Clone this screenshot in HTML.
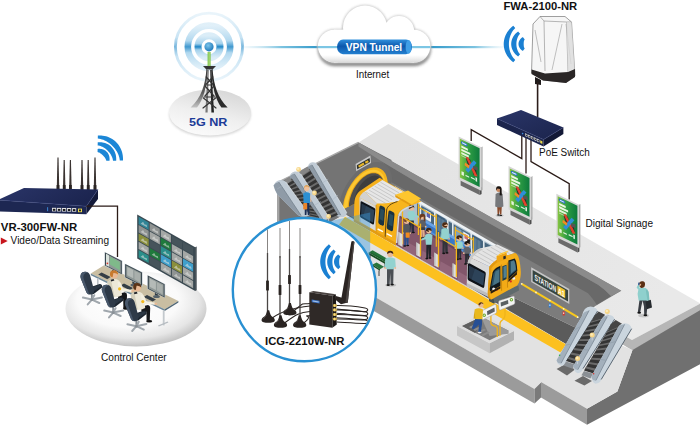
<!DOCTYPE html>
<html><head><meta charset="utf-8"><title>5G NR Subway Application</title>
<style>
html,body{margin:0;padding:0;background:#fff;}
body{width:700px;height:426px;overflow:hidden;}
svg{display:block;}
text{font-family:"Liberation Sans",sans-serif;}
.b{font-weight:bold;}
</style></head><body>
<svg width="700" height="426" viewBox="0 0 700 426">
<defs>
<linearGradient id="gBase" x1="0.75" y1="0" x2="0.3" y2="1"><stop offset="0" stop-color="#d6d6d6"/><stop offset="0.55" stop-color="#efefef"/><stop offset="1" stop-color="#fbfbfb"/></linearGradient>
<linearGradient id="gRing" x1="0" y1="0" x2="0" y2="1"><stop offset="0" stop-color="#cfe7f5" stop-opacity="0.75"/><stop offset="0.36" stop-color="#a3d1ec"/><stop offset="0.5" stop-color="#1e86c6"/><stop offset="0.64" stop-color="#a3d1ec"/><stop offset="1" stop-color="#cfe7f5" stop-opacity="0.75"/></linearGradient>
<linearGradient id="gLineL" x1="0" y1="0" x2="1" y2="0"><stop offset="0" stop-color="#cfe8f3" stop-opacity="0.2"/><stop offset="0.5" stop-color="#7cc3e0"/><stop offset="1" stop-color="#2f97c8"/></linearGradient>
<linearGradient id="gLineR" x1="0" y1="0" x2="1" y2="0"><stop offset="0" stop-color="#2f97c8"/><stop offset="0.6" stop-color="#7cc3e0"/><stop offset="1" stop-color="#cfe8f3" stop-opacity="0.1"/></linearGradient>
<linearGradient id="gPill" x1="0" y1="0" x2="0" y2="1"><stop offset="0" stop-color="#2f8fdc"/><stop offset="0.45" stop-color="#0d58ac"/><stop offset="1" stop-color="#2380d0"/></linearGradient>
<linearGradient id="gCloud" x1="0" y1="0" x2="0" y2="1"><stop offset="0" stop-color="#ffffff"/><stop offset="0.8" stop-color="#ffffff"/><stop offset="1" stop-color="#ececec"/></linearGradient>
<radialGradient id="gBall" cx="0.4" cy="0.35" r="0.7"><stop offset="0" stop-color="#7cc4ea"/><stop offset="1" stop-color="#1a76b8"/></radialGradient>
<filter id="fCloud" x="-10%" y="-10%" width="120%" height="140%"><feGaussianBlur stdDeviation="1.6"/></filter>
<filter id="fSoft" x="-10%" y="-10%" width="120%" height="120%"><feGaussianBlur stdDeviation="1.2"/></filter>
<linearGradient id="gCC" x1="0" y1="0" x2="0" y2="1"><stop offset="0" stop-color="#ffffff"/><stop offset="0.6" stop-color="#f7f7f7"/><stop offset="1" stop-color="#d2d2d2"/></linearGradient>
<linearGradient id="gCloudB" x1="0" y1="0" x2="0" y2="1"><stop offset="0" stop-color="#e0e0e0" stop-opacity="0"/><stop offset="1" stop-color="#d5d5d5"/></linearGradient><clipPath id="cCloud"><rect x="334" y="29.7" width="80" height="32.8"/><circle cx="334.3" cy="46.1" r="16.4"/><circle cx="414" cy="46.1" r="16.4"/></clipPath>
<clipPath id="cCircle"><circle cx="304.4" cy="289.6" r="70.6"/></clipPath>
</defs>
<rect width="700" height="426" fill="#fff"/>
<ellipse cx="210" cy="114.4" rx="41" ry="22.6" fill="#c9c9c9" filter="url(#fSoft)" opacity="0.75"/>
<ellipse cx="210" cy="112.6" rx="41" ry="23" fill="url(#gBase)"/>
<circle cx="209" cy="46.8" r="33.6" fill="none" stroke="url(#gRing)" stroke-width="2.8" opacity="0.6"/>
<circle cx="209" cy="46.8" r="21.2" fill="none" stroke="url(#gRing)" stroke-width="6.6" opacity="0.85"/>
<circle cx="209" cy="46.8" r="11" fill="none" stroke="url(#gRing)" stroke-width="7" opacity="1"/>
<circle cx="209" cy="46.8" r="4.6" fill="url(#gBall)"/>
<rect x="207.6" y="52" width="3" height="15" fill="#79c143"/>
<rect x="208.6" y="52" width="1" height="15" fill="#b5e08a"/>
<defs><linearGradient id="gLegL" x1="0" y1="0" x2="0" y2="1"><stop offset="0" stop-color="#3a3a3a"/><stop offset="0.6" stop-color="#5a5a5a"/><stop offset="1" stop-color="#c4c4c4"/></linearGradient></defs>
<g fill="none" stroke="#333" stroke-linecap="round" stroke-linejoin="round"><path d="M203,66 h13 l-3.4,3.4 h-6.2z" fill="#333" stroke="none"/><path d="M206.4,69 C205.4,85 201,98 190.6,107.6 L197,107.6 C203.6,99 206.8,87 207.8,70" fill="url(#gLegL)" stroke="none"/><path d="M212.6,69 C213.6,85 218,98 227.6,107.6 L221.4,107.6 C215.4,99 212.2,87 211.2,70" fill="#2b2b2b" stroke="none"/><path d="M207.6,70 L205.4,112.4 L207.6,112.4 L208.8,70 Z" fill="#777" stroke="none"/><path d="M210.2,70 L211.4,112.4 L214,112.4 L211.4,70 Z" fill="#222" stroke="none"/><path d="M206.2,77 L212.6,84 M212.8,77 L206.4,84 M205,86 L214,96 M214,86 L205,96 M203.4,98 L216,108 M215.6,98 L203,108" stroke-width="1.2"/><path d="M205.6,85 H213.4 M204,97 H215" stroke-width="1.1"/></g>
<text x="189" y="126.3" class="b" font-size="11.3" fill="#1c3b98" textLength="38.4" lengthAdjust="spacingAndGlyphs">5G NR</text>
<rect x="243" y="46" width="77" height="2.2" fill="url(#gLineL)"/>
<rect x="428" y="46" width="78" height="2.2" fill="url(#gLineR)"/>
<g fill="#6a6a6a" opacity="0.85" transform="translate(0.3,3.6)" filter="url(#fCloud)"><rect x="334" y="29.7" width="80" height="32.8"/><circle cx="334.3" cy="46.1" r="16.4"/><circle cx="414" cy="46.1" r="16.4"/><circle cx="365" cy="27.5" r="22"/><circle cx="399" cy="31.2" r="15.2"/></g>
<g fill="#c9c9c9" stroke="#c9c9c9" stroke-width="1.6" filter="url(#fSoft)" opacity="0.9"><rect x="334" y="29.7" width="80" height="32.8"/><circle cx="334.3" cy="46.1" r="16.4"/><circle cx="414" cy="46.1" r="16.4"/><circle cx="365" cy="27.5" r="22"/><circle cx="399" cy="31.2" r="15.2"/></g>
<g fill="#fff"><rect x="334" y="29.7" width="80" height="32.8"/><circle cx="334.3" cy="46.1" r="16.4"/><circle cx="414" cy="46.1" r="16.4"/><circle cx="365" cy="27.5" r="22"/><circle cx="399" cy="31.2" r="15.2"/></g>
<rect x="318" y="55" width="112" height="8" fill="url(#gCloudB)" clip-path="url(#cCloud)"/>
<rect x="318" y="46" width="112" height="2.2" fill="#7cc6e4"/>
<rect x="337" y="39.6" width="75" height="14.6" rx="6" ry="7.3" fill="url(#gPill)"/>
<ellipse cx="408.6" cy="46.9" rx="3" ry="6.8" fill="#3f9ee6"/>
<text x="374" y="50.6" class="b" font-size="10.2" fill="#fff" text-anchor="middle" textLength="56.4" lengthAdjust="spacingAndGlyphs">VPN Tunnel</text>
<text x="356" y="77.7" font-size="10" fill="#111" textLength="33.2" lengthAdjust="spacingAndGlyphs">Internet</text>
<text x="503.4" y="9.8" class="b" font-size="11.6" fill="#111" textLength="73.8" lengthAdjust="spacingAndGlyphs">FWA-2100-NR</text>
<polygon points="522.81,50.89 522.26,50.52 521.71,50.13 521.18,49.69 520.68,49.21 520.21,48.68 519.79,48.11 519.41,47.50 519.09,46.85 518.84,46.16 518.65,45.46 518.54,44.73 518.50,44.00 518.54,43.27 518.65,42.54 518.84,41.84 519.09,41.15 519.41,40.50 519.79,39.89 520.21,39.32 520.68,38.79 521.18,38.31 521.71,37.87 522.26,37.48 522.81,37.11 524.74,39.40 524.49,39.76 524.28,40.16 524.12,40.56 523.99,40.97 523.89,41.37 523.82,41.77 523.77,42.16 523.74,42.54 523.72,42.92 523.71,43.28 523.70,43.64 523.70,44.00 523.70,44.36 523.71,44.72 523.72,45.08 523.74,45.46 523.77,45.84 523.82,46.23 523.89,46.63 523.99,47.03 524.12,47.44 524.28,47.84 524.49,48.24 524.74,48.60" fill="#1b80d2"/><polygon points="518.12,56.49 517.18,55.76 516.26,54.98 515.39,54.13 514.58,53.22 513.84,52.24 513.17,51.20 512.59,50.09 512.10,48.94 511.71,47.74 511.43,46.52 511.26,45.26 511.20,44.00 511.26,42.74 511.43,41.48 511.71,40.26 512.10,39.06 512.59,37.91 513.17,36.80 513.84,35.76 514.58,34.78 515.39,33.87 516.26,33.02 517.18,32.24 518.12,31.51 520.05,33.81 519.40,34.53 518.83,35.30 518.32,36.11 517.89,36.95 517.52,37.81 517.20,38.69 516.95,39.57 516.75,40.45 516.59,41.34 516.48,42.23 516.42,43.11 516.40,44.00 516.42,44.89 516.48,45.77 516.59,46.66 516.75,47.55 516.95,48.43 517.20,49.31 517.52,50.19 517.89,51.05 518.32,51.89 518.83,52.70 519.40,53.47 520.05,54.19" fill="#1b80d2"/><polygon points="513.30,62.23 511.95,61.14 510.66,59.97 509.44,58.70 508.32,57.34 507.29,55.89 506.37,54.37 505.58,52.76 504.91,51.09 504.39,49.37 504.01,47.60 503.78,45.81 503.70,44.00 503.78,42.19 504.01,40.40 504.39,38.63 504.91,36.91 505.58,35.24 506.37,33.63 507.29,32.11 508.32,30.66 509.44,29.30 510.66,28.03 511.95,26.86 513.30,25.77 515.23,28.07 514.17,29.15 513.22,30.32 512.37,31.55 511.62,32.83 510.97,34.16 510.41,35.52 509.94,36.90 509.56,38.30 509.27,39.71 509.06,41.14 508.94,42.57 508.90,44.00 508.94,45.43 509.06,46.86 509.27,48.29 509.56,49.70 509.94,51.10 510.41,52.48 510.97,53.84 511.62,55.17 512.37,56.45 513.22,57.68 514.17,58.85 515.23,59.93" fill="#1b80d2"/>
<path d="M540,16.5 L565,16.5 L571.5,22 L575,76 L566,82.5 L543,80 L531.5,73 L533,24 Z" fill="#f6f6f6" stroke="#777" stroke-width="0.7"/>
<path d="M540,16.5 L544,21 L566.5,22 L571.5,22 M544,21 L545,71 M566.5,22 L568,72" fill="none" stroke="#888" stroke-width="0.6"/>
<path d="M535,30 L541,62 M562,24 L552,70 M566,24 L571,64" fill="none" stroke="#999" stroke-width="0.6"/>
<path d="M566.5,22 L571.5,22 L575,76 L568,72 Z" fill="#dcdcdc" opacity="0.8"/>
<path d="M531.6,69.5 L545,73.5 L568,72 L575,69 L575,77 L566,83 L543,80.5 L531.5,74 Z" fill="#2a2626"/>
<path d="M535,77 L541,80 L541,85 L535,84 Z" fill="#1f1b1b"/>
<path d="M537.6,82 V117" stroke="#2b1d1a" stroke-width="1.6" fill="none"/>
<linearGradient id="gUp" gradientUnits="userSpaceOnUse" x1="400" y1="140" x2="640" y2="330"><stop offset="0" stop-color="#e3e3e3"/><stop offset="1" stop-color="#e9e9e9"/></linearGradient>
<polygon points="388.4,124 700.5,303.5 632,340 622,334.5 600,322 595,306.3 621.3,290.8 358.5,142.4" fill="url(#gUp)" />
<polygon points="632,340 700.5,303.5 700.5,311 632.5,350.4 621,343.5 622,334.5" fill="#b6b6b6" />
<polygon points="632.5,350 700.5,310 700.5,364 587,424.8 587,408.7 617.4,391.5" fill="#707070" />
<polygon points="358.5,142.4 621.3,290.8 595,306.3 584,316 574.6,327.3 515.5,298.4 380,232 358.5,222" fill="#7c7c7c" />
<polygon points="515.5,298.4 574.6,327.3 584,316 590,330 570,346.5 340,213.68 340,190 400,240" fill="#5b5b5b" />
<polygon points="358.5,142.4 277.3,182.6 277.3,256 345,214 391.5,232 391.5,160" fill="#747474" />
<polyline points="358.5,142.4 277.3,182.6" fill="none" stroke="#a9a9a9" stroke-width="1.6" />
<path d="M381,161.01 L420,184.13 L598,284.64 Q606,290.16 611,296 L596.7,304.8 Q594,300 588,293.30 L391.5,182.33 Q389.5,167 381,161.01 Z" fill="#696969"/>
<path d="M358.50,142.40 L621.30,290.80 L611,296 Q606,290.16 598,284.64 L420,184.13 L381,161.01 L358.5,146.60 Z" fill="#8b8b8b"/>
<polygon points="287,246.3 345,214 566,344.08 600,336 632.5,350 617.4,391.5 587,408.7 541,382.06 534.5,388.9" fill="#e2e2e2" />
<polygon points="345,216.76 566.3,344.46 560.5,352.51 339,224.7" fill="#fcc01f" />
<polygon points="287,246.3 534.5,388.9 534.5,403.5 287,261" fill="#9b9b9b" />
<polygon points="534.5,388.9 541,382.6 541,397.5 534.5,403.5" fill="#7a7a7a" />
<polygon points="541,382.06 587,408.7 587,424.8 541,397.5" fill="#9b9b9b" />
<polygon points="338.3,212.02 338.38,209.5 338.63,206.91 339.05,204.25 339.62,201.55 340.36,198.81 341.24,196.07 342.28,193.33 343.46,190.62 344.77,187.94 346.21,185.32 347.76,182.77 349.43,180.3 351.19,177.94 353.04,175.7 354.97,173.58 356.96,171.61 359,169.8 361.08,168.15 363.18,166.68 365.3,165.4 367.42,164.31 369.52,163.42 371.6,162.74 373.64,162.27 375.63,162.01 377.56,161.97 379.41,162.14 381.17,162.53 382.84,163.13 384.39,163.93 385.83,164.95 387.14,166.15 388.32,167.55 389.36,169.13 390.24,170.88 390.98,172.79 391.55,174.84 391.97,177.04 392.22,179.36 392.3,181.78" fill="#6c6c6c" />
<polygon points="342.9,209.44 342.97,207.31 343.18,205.11 343.52,202.86 344,200.58 344.61,198.27 345.34,195.96 346.2,193.64 347.18,191.35 348.27,189.1 349.46,186.89 350.75,184.74 352.13,182.67 353.6,180.69 355.13,178.8 356.73,177.03 358.38,175.38 360.07,173.87 361.8,172.49 363.54,171.27 365.3,170.2 367.06,169.3 368.8,168.57 370.53,168.01 372.22,167.63 373.87,167.43 375.47,167.42 377,167.58 378.47,167.93 379.85,168.45 381.14,169.15 382.33,170.02 383.42,171.06 384.4,172.25 385.26,173.6 385.99,175.09 386.6,176.72 387.08,178.47 387.42,180.33 387.63,182.3 387.7,184.36" fill="#f4b41c" />
<polygon points="343.9,208.95 343.96,206.95 344.16,204.89 344.47,202.79 344.92,200.65 345.48,198.49 346.17,196.33 346.97,194.17 347.87,192.03 348.88,189.92 349.99,187.86 351.19,185.85 352.47,183.92 353.83,182.07 355.26,180.31 356.74,178.66 358.27,177.12 359.84,175.71 361.45,174.43 363.07,173.29 364.7,172.3 366.33,171.46 367.95,170.79 369.56,170.27 371.13,169.92 372.66,169.75 374.14,169.74 375.57,169.9 376.93,170.23 378.21,170.73 379.41,171.39 380.52,172.21 381.53,173.18 382.43,174.31 383.23,175.57 383.92,176.97 384.48,178.5 384.93,180.14 385.24,181.88 385.44,183.73 385.5,185.65" fill="#fdc832" />
<polygon points="347.7,207.4 347.76,205.6 347.93,203.74 348.21,201.84 348.6,199.92 349.1,197.97 349.71,196.02 350.41,194.08 351.21,192.15 352.11,190.26 353.09,188.41 354.15,186.61 355.28,184.87 356.49,183.21 357.75,181.64 359.06,180.16 360.41,178.79 361.8,177.53 363.22,176.39 364.66,175.38 366.1,174.5 367.54,173.76 368.98,173.17 370.4,172.72 371.79,172.42 373.14,172.28 374.45,172.29 375.71,172.45 376.92,172.76 378.05,173.22 379.11,173.83 380.09,174.59 380.99,175.48 381.79,176.51 382.49,177.66 383.1,178.93 383.6,180.32 383.99,181.8 384.27,183.39 384.44,185.05 384.5,186.8" fill="#e9a514" />
<polygon points="348.9,206.76 348.95,205.03 349.12,203.26 349.39,201.44 349.76,199.6 350.24,197.74 350.82,195.88 351.49,194.02 352.26,192.18 353.12,190.37 354.05,188.6 355.07,186.88 356.15,185.22 357.3,183.63 358.51,182.13 359.76,180.72 361.06,179.4 362.39,178.2 363.75,177.11 365.12,176.14 366.5,175.3 367.88,174.59 369.25,174.02 370.61,173.6 371.94,173.31 373.24,173.17 374.49,173.18 375.7,173.33 376.85,173.63 377.93,174.07 378.95,174.66 379.88,175.38 380.74,176.23 381.51,177.21 382.18,178.31 382.76,179.53 383.24,180.85 383.61,182.27 383.88,183.79 384.05,185.38 384.1,187.04" fill="#4d4d4d" />
<polygon points="353.8,204.3 353.85,202.82 353.98,201.3 354.21,199.75 354.53,198.17 354.94,196.58 355.43,194.99 356.01,193.4 356.66,191.82 357.39,190.27 358.19,188.76 359.06,187.29 359.98,185.87 360.96,184.52 361.99,183.23 363.06,182.02 364.16,180.9 365.3,179.87 366.45,178.94 367.62,178.12 368.8,177.4 369.98,176.8 371.15,176.31 372.3,175.95 373.44,175.71 374.54,175.59 375.61,175.6 376.64,175.74 377.62,176 378.54,176.38 379.41,176.88 380.21,177.5 380.94,178.23 381.59,179.07 382.17,180.02 382.66,181.06 383.07,182.19 383.39,183.41 383.62,184.71 383.75,186.07 383.8,187.5" fill="#3e3e3e" />
<polygon points="355.6,163.9 370.4,155.6 371,163 356.2,171.3" fill="#c9c9c9" />
<polygon points="356.8,165.3 369.6,158.1 370,162 357.2,169.2" fill="#2f3330" />
<polyline points="358.6,166.6 364,163.5" fill="none" stroke="#e7b62a" stroke-width="2.2" />
<polyline points="365.3,162.8 368.3,161.1" fill="none" stroke="#e7b62a" stroke-width="2.2" />
<polygon points="395,187.41 498,246.85 498,272.35 395,212.91" fill="#aebfcd" />
<polygon points="395,186.31 498,245.75 498,248.75 395,189.31" fill="#eef2f5" />
<polygon points="417,203.21 498,249.95 498,263.35 417,216.61" fill="#48677f" />
<polygon points="436.5,213.86 445.5,219.05 445.5,243.05 436.5,237.86" fill="#3f5f7c" />
<polygon points="437.5,216.44 440.7,218.28 440.7,232.28 437.5,230.44" fill="#5d7d95" />
<polygon points="441.3,218.63 444.5,220.48 444.5,234.48 441.3,232.63" fill="#5d7d95" />
<polygon points="472.5,234.63 481.5,239.83 481.5,263.83 472.5,258.63" fill="#3f5f7c" />
<polygon points="473.5,237.21 476.7,239.06 476.7,253.06 473.5,251.21" fill="#5d7d95" />
<polygon points="477.3,239.4 480.5,241.25 480.5,255.25 477.3,253.4" fill="#5d7d95" />
<polygon points="423.5,208.36 430.5,212.4 430.5,222.9 423.5,218.86" fill="#7f9fb8" />
<polygon points="454.5,226.25 461.5,230.29 461.5,240.79 454.5,236.75" fill="#7f9fb8" />
<polygon points="462.5,230.86 469.5,234.9 469.5,245.4 462.5,241.36" fill="#7f9fb8" />
<polygon points="425.6,209.97 431,213.09 431,222.09 425.6,218.97" fill="#eef1f4" />
<polygon points="426.6,211.95 430,213.91 430,218.51 426.6,216.55" fill="#5a62ae" />
<polygon points="463.4,231.78 469,235.01 469,244.01 463.4,240.78" fill="#eef1f4" />
<polygon points="464.4,233.76 468,235.84 468,240.44 464.4,238.36" fill="#c26a78" />
<polygon points="419.6,203.11 421.2,204.03 421.2,228.03 419.6,227.11" fill="#e2e9ee" />
<polygon points="434,211.42 435.6,212.34 435.6,236.34 434,235.42" fill="#e2e9ee" />
<polygon points="447,218.92 448.6,219.84 448.6,243.84 447,242.92" fill="#e2e9ee" />
<polygon points="452,221.8 453.6,222.73 453.6,246.73 452,245.8" fill="#e2e9ee" />
<polygon points="470.4,232.42 472,233.34 472,257.34 470.4,256.42" fill="#e2e9ee" />
<polygon points="483,239.69 484.6,240.61 484.6,264.61 483,263.69" fill="#e2e9ee" />
<polygon points="421.5,218.71 436,227.07 436,236.57 421.5,228.21" fill="#3878c8" />
<polygon points="421.5,217.61 436,225.97 436,228.97 421.5,220.61" fill="#6aa4e6" />
<polygon points="421.5,226.21 436,234.57 436,237.97 421.5,229.61" fill="#5590da" />
<polygon points="446.5,233.13 471,247.27 471,256.77 446.5,242.63" fill="#3878c8" />
<polygon points="446.5,232.03 471,246.17 471,249.17 446.5,235.03" fill="#6aa4e6" />
<polygon points="446.5,240.63 471,254.77 471,258.17 446.5,244.03" fill="#5590da" />
<polygon points="482,253.61 498,262.85 498,272.35 482,263.11" fill="#3878c8" />
<polygon points="482,252.51 498,261.75 498,264.75 482,255.51" fill="#6aa4e6" />
<polygon points="482,261.11 498,270.35 498,273.75 482,264.51" fill="#5590da" />
<polygon points="395,212.91 498,272.35 470,288.19 393,243.76" fill="#82566a" />
<polygon points="395,212.91 498,272.35 496,273.59 394.6,215.08" fill="#6a4457" />
<polygon points="404.5,240.4 416.5,247.32 415.5,256.74 403.5,249.82" fill="#93667a" />
<polygon points="422.5,250.78 434.5,257.71 433.5,267.13 421.5,260.21" fill="#93667a" />
<polygon points="440.5,261.17 452.5,268.09 451.5,277.52 439.5,270.59" fill="#93667a" />
<polygon points="458.5,271.55 470.5,278.48 469.5,287.9 457.5,280.98" fill="#93667a" />
<polygon points="393,243.36 470,287.79 470,289.09 393,244.66" fill="#d8d0c4" />
<path d="M353.8,221.6 L354.3,204 C354.6,197 357,193 361,190.3 L379.6,177.8 L421,201.6 L412,205 C404,207 398.5,211 397.6,217 L395.7,245.4 Z" fill="#f5b01b"/>
<path d="M364.6,191.6 L382.4,179.9 L409,195.2 L397.5,201.5 L386,203.5 L377,203.6 Z" fill="#e6e6e6"/>
<path d="M359.6,197.4 C360.6,194.6 362.4,193 364.6,191.6 L377,203.6 L376,206.6 Z" fill="#d2d2d2"/>
<polyline points="366,192 387,204.1" fill="none" stroke="#b4b4b4" stroke-width="0.6" />
<polyline points="368.88,190.04 389.4,201.86" fill="none" stroke="#b4b4b4" stroke-width="0.6" />
<polyline points="371.76,188.08 391.8,199.62" fill="none" stroke="#b4b4b4" stroke-width="0.6" />
<polyline points="374.64,186.12 394.2,197.38" fill="none" stroke="#b4b4b4" stroke-width="0.6" />
<polyline points="377.52,184.16 396.6,195.14" fill="none" stroke="#b4b4b4" stroke-width="0.6" />
<polyline points="380.4,182.2 399,192.9" fill="none" stroke="#b4b4b4" stroke-width="0.6" />
<polygon points="359.6,197.4 376,206.6 376,231.2 359.8,221.8" fill="#d9d9d9" />
<polygon points="359.6,197.4 360.6,198 360.8,222.4 359.8,221.8" fill="#c2c2c2" />
<path d="M360.6,202.2 Q360.6,200.8 362,201.4 L374.4,208 Q375.6,208.8 375.4,210 L374,223.6 Q373.8,225 372.4,224.3 L361,217.8 Q359.8,217 359.9,215.6 Z" fill="#0f141b"/>
<path d="M361.6,203.6 L374.3,210.2 L373,222.6 L361,215.8 Z" fill="#27384a"/>
<path d="M366,206 L374.3,210.2 L373,222.6 L363,217 Z" fill="#314a60" opacity="0.7"/>
<polygon points="376,204.8 397.5,214 395.7,245.4 376,234" fill="#f5b01b" />
<polygon points="376,204.8 386.5,209.3 385,239.2 376,234" fill="#f2ab18" />
<path d="M376,204.8 L386,203.5 L397.5,201.5 L409,195.2 L421,201.6 L412,205 C404,207 398.5,211 397.6,214 Z" fill="#f7b51e"/>
<polygon points="395.3,194.8 408,190.4 421,198.6 411.5,204.4" fill="#fdc62e" />
<polygon points="395.3,194.8 411.5,204.4 411.3,206.3 395.3,197" fill="#e39c12" />
<path d="M379.4,207.2 Q379.6,205 381.5,205.8 L383.6,206.8 Q385.2,207.6 385.1,209.4 L384,224.3 Q383.8,226.3 382,225.5 L379.6,224.3 Q378.2,223.5 378.3,221.8 Z" fill="#1b3240"/>
<path d="M388.4,212.2 Q388.6,210 390.5,210.8 L393,212 Q394.6,212.8 394.5,214.6 L393,229.8 Q392.8,231.8 391,231 L388,229.5 Q386.6,228.7 386.7,227 Z" fill="#1b3240"/>
<path d="M380.5,208.5 L384,210.2 L383.2,221 L379.6,219 Z" fill="#2f5868" opacity="0.7"/>
<path d="M389.5,213.5 L393.3,215.4 L392.4,226.5 L388.5,224.4 Z" fill="#2f5868" opacity="0.7"/>
<path d="M397.5,201.5 C391,203.5 387.3,206 386.6,210 L385,239.2" fill="none" stroke="#3a2a10" stroke-width="0.8"/>
<polyline points="376,204.8 376,234" fill="none" stroke="#c98a10" stroke-width="0.7" />
<polyline points="377.6,229 383,231.6" fill="none" stroke="#fff" stroke-width="1.4" />
<polyline points="386.6,233.6 392,236.4" fill="none" stroke="#fff" stroke-width="1.4" />
<polygon points="353.8,219 395.8,242.8 395.7,245.4 353.8,221.6" fill="#e39c12" />
<polyline points="418.4,203.92 418.4,234.92" fill="none" stroke="#f5b51a" stroke-width="1.2" />
<polyline points="436.3,214.25 436.3,246.75" fill="none" stroke="#f5b51a" stroke-width="1.2" />
<polyline points="418.4,206.92 436.3,217.25" fill="none" stroke="#f5b51a" stroke-width="1.2" />
<polyline points="455.4,226.77 455.4,248.77" fill="none" stroke="#f5b51a" stroke-width="1.2" />
<polyline points="473.3,237.09 473.3,260.59" fill="none" stroke="#f5b51a" stroke-width="1.2" />
<polyline points="455.4,229.77 473.3,240.09" fill="none" stroke="#f5b51a" stroke-width="1.2" />
<path d="M409.00,219.34 L413.80,219.34 L414.20,232.40 L411.70,232.40 L411.40,222.64 L410.90,233.00 L408.84,233.00 Z" fill="#2b3040"/><ellipse cx="410.20" cy="233.00" rx="1.5" ry="0.8" fill="#141414"/><ellipse cx="413.40" cy="232.50" rx="1.5" ry="0.8" fill="#141414"/><path d="M407.72,212.20 Q411.40,209.00 415.08,212.20 L414.28,220.44 L408.52,220.44 Z" fill="#93d2cf"/><path d="M413.00,212.80 L419.00,216.20 L418.60,217.80 L412.20,215.80 Z" fill="#93d2cf"/><circle cx="419.40" cy="217.00" r="0.9" fill="#e9b994"/><circle cx="411.40" cy="207.90" r="2.70" fill="#e9b994"/><path d="M408.50,208.10 A2.90,3.20 0 0 1 414.30,208.10 L413.29,206.89 Q411.40,207.43 409.51,209.10 Z" fill="#3a2415"/>
<path d="M420.42,226.22 L424.38,226.22 L424.78,237.40 L422.70,237.40 L422.40,229.12 L421.90,238.00 L420.29,238.00 Z" fill="#e2ae88"/><ellipse cx="421.48" cy="238.00" rx="1.5" ry="0.8" fill="#141414"/><ellipse cx="424.12" cy="237.50" rx="1.5" ry="0.8" fill="#141414"/><path d="M420.02,225.72 L424.78,225.72 L425.17,230.08 L419.63,230.08 Z" fill="#3c3f46"/><path d="M419.36,221.20 Q422.40,218.00 425.44,221.20 L424.78,227.32 L420.02,227.32 Z" fill="#5b5f66"/><path d="M419.36,221.20 L418.44,226.12 L420.02,226.12 Z" fill="#5b5f66"/><path d="M425.44,221.20 L426.36,226.12 L424.78,226.12 Z" fill="#5b5f66"/><circle cx="419.10" cy="226.72" r="0.9" fill="#e9b994"/><circle cx="425.70" cy="226.72" r="0.9" fill="#e9b994"/><circle cx="422.40" cy="216.90" r="2.70" fill="#e9b994"/><path d="M419.50,217.10 A2.90,3.20 0 0 1 425.30,217.10 L424.29,215.89 Q422.40,216.43 420.51,218.10 Z" fill="#6b3b1f"/>
<path d="M419.6,217.4 Q419.4,213.6 422.6,213.8 Q425.6,214 425.2,217.4 L425.6,221.6 L423.8,221 L423.6,216.6 L421,216.4 L420.6,220.6 L419.4,221 Z" fill="#6b3b1f"/>
<path d="M442.60,238.33 L447.40,238.33 L447.80,252.80 L445.30,252.80 L445.00,241.93 L444.50,253.40 L442.44,253.40 Z" fill="#30333a"/><ellipse cx="443.80" cy="253.40" rx="1.5" ry="0.8" fill="#141414"/><ellipse cx="447.00" cy="252.90" rx="1.5" ry="0.8" fill="#141414"/><path d="M441.32,229.60 Q445.00,226.40 448.68,229.60 L447.88,239.43 L442.12,239.43 Z" fill="#93d2cf"/><path d="M441.32,229.60 L440.20,238.23 L442.12,238.23 Z" fill="#93d2cf"/><path d="M448.68,229.60 L449.80,238.23 L447.88,238.23 Z" fill="#93d2cf"/><circle cx="441.00" cy="238.83" r="0.9" fill="#e9b994"/><circle cx="449.00" cy="238.83" r="0.9" fill="#e9b994"/><circle cx="445.00" cy="225.30" r="2.70" fill="#e9b994"/><path d="M442.10,225.50 A2.90,3.20 0 0 1 447.90,225.50 L446.89,224.29 Q445.00,224.83 443.11,226.50 Z" fill="#4a2a14"/><path d="M442.57,225.90 Q445.60,229.40 447.43,225.90 Z" fill="#4a2a14"/>
<path d="M404.38,232.53 L408.82,232.53 L408.42,245.40 L406.90,245.40 L406.60,235.79 L406.10,246.00 L404.23,246.00 Z" fill="#2a4f8c"/><ellipse cx="404.72" cy="246.00" rx="1.5" ry="0.8" fill="#141414"/><ellipse cx="407.68" cy="245.50" rx="1.5" ry="0.8" fill="#141414"/><path d="M403.20,225.60 Q406.60,222.40 410.00,225.60 L409.26,233.63 L403.94,233.63 Z" fill="#54575e"/><path d="M403.20,225.60 L402.16,232.43 L403.94,232.43 Z" fill="#54575e"/><path d="M410.00,225.60 L411.04,232.43 L409.26,232.43 Z" fill="#54575e"/><circle cx="402.90" cy="233.03" r="0.9" fill="#e9b994"/><circle cx="410.30" cy="233.03" r="0.9" fill="#e9b994"/><circle cx="406.60" cy="221.30" r="2.70" fill="#e9b994"/><path d="M403.70,221.50 A2.90,3.20 0 0 1 409.50,221.50 L405.79,220.29 Q406.60,220.83 406.87,222.50 Z" fill="#7a4a26"/>
<rect x="405.6" y="232.4" width="4" height="5.4" rx="0.7" fill="#f08a1e"/>
<polyline points="402.5,211.24 402.5,244.24" fill="none" stroke="#f5b51a" stroke-width="1.3" />
<polyline points="402.5,217.24 420.5,227.63" fill="none" stroke="#f5b51a" stroke-width="1.2" />
<path d="M426.40,243.62 L431.20,243.62 L430.80,258.00 L429.10,258.00 L428.80,247.20 L428.30,258.60 L426.24,258.60 Z" fill="#23262c"/><ellipse cx="426.80" cy="258.60" rx="1.5" ry="0.8" fill="#141414"/><ellipse cx="430.00" cy="258.10" rx="1.5" ry="0.8" fill="#141414"/><path d="M425.12,235.00 Q428.80,231.80 432.48,235.00 L431.68,244.72 L425.92,244.72 Z" fill="#93d2cf"/><path d="M427.20,235.60 L421.20,239.00 L421.60,240.60 L428.00,238.60 Z" fill="#93d2cf"/><circle cx="420.80" cy="239.80" r="0.9" fill="#e9b994"/><circle cx="428.80" cy="230.70" r="2.70" fill="#e9b994"/><path d="M425.90,230.90 A2.90,3.20 0 0 1 431.70,230.90 L427.99,229.69 Q428.80,230.23 429.07,231.90 Z" fill="#3a2415"/>
<path d="M456.98,247.62 L461.42,247.62 L461.02,258.80 L459.50,258.80 L459.20,250.52 L458.70,259.40 L456.83,259.40 Z" fill="#2d3037"/><ellipse cx="457.32" cy="259.40" rx="1.5" ry="0.8" fill="#141414"/><ellipse cx="460.28" cy="258.90" rx="1.5" ry="0.8" fill="#141414"/><path d="M455.80,242.60 Q459.20,239.40 462.60,242.60 L461.86,248.72 L456.54,248.72 Z" fill="#93d2cf"/><path d="M455.80,242.60 L454.76,247.52 L456.54,247.52 Z" fill="#93d2cf"/><path d="M462.60,242.60 L463.64,247.52 L461.86,247.52 Z" fill="#93d2cf"/><circle cx="455.50" cy="248.12" r="0.9" fill="#e9b994"/><circle cx="462.90" cy="248.12" r="0.9" fill="#e9b994"/><circle cx="459.20" cy="238.30" r="2.70" fill="#e9b994"/><path d="M456.30,238.50 A2.90,3.20 0 0 1 462.10,238.50 L458.39,237.29 Q459.20,237.83 459.47,239.50 Z" fill="#3a2415"/>
<path d="M465.16,252.69 L469.24,252.69 L468.84,263.40 L467.50,263.40 L467.20,255.49 L466.70,264.00 L465.02,264.00 Z" fill="#2a2d33"/><ellipse cx="465.44" cy="264.00" rx="1.5" ry="0.8" fill="#141414"/><ellipse cx="468.16" cy="263.50" rx="1.5" ry="0.8" fill="#141414"/><path d="M464.07,248.20 Q467.20,245.00 470.33,248.20 L469.65,253.79 L464.75,253.79 Z" fill="#60636a"/><path d="M464.07,248.20 L463.12,252.59 L464.75,252.59 Z" fill="#60636a"/><path d="M470.33,248.20 L471.28,252.59 L469.65,252.59 Z" fill="#60636a"/><circle cx="463.80" cy="253.19" r="0.9" fill="#e9b994"/><circle cx="470.60" cy="253.19" r="0.9" fill="#e9b994"/><circle cx="467.20" cy="243.90" r="2.70" fill="#e9b994"/><path d="M464.30,244.10 A2.90,3.20 0 0 1 470.10,244.10 L466.39,242.89 Q467.20,243.43 467.47,245.10 Z" fill="#15110f"/>
<circle cx="468.6" cy="240.8" r="1.5" fill="#15110f"/>
<polygon points="398.3,231.82 402.5,234.24 402.5,247.04 398.3,244.62" fill="#dcdcdc" />
<polygon points="398.3,231.82 399.5,232.51 399.5,245.31 398.3,244.62" fill="#b9b9b9" />
<polygon points="416.3,242.21 420.5,244.63 420.5,257.43 416.3,255.01" fill="#dcdcdc" />
<polygon points="416.3,242.21 417.5,242.9 417.5,255.7 416.3,255.01" fill="#b9b9b9" />
<polygon points="434.3,252.59 438.5,255.01 438.5,267.81 434.3,265.39" fill="#dcdcdc" />
<polygon points="434.3,252.59 435.5,253.28 435.5,266.08 434.3,265.39" fill="#b9b9b9" />
<polygon points="452.6,263.15 456.8,265.57 456.8,278.37 452.6,275.95" fill="#dcdcdc" />
<polygon points="452.6,263.15 453.8,263.84 453.8,276.64 452.6,275.95" fill="#b9b9b9" />
<polyline points="420.5,223.63 420.5,256.23" fill="none" stroke="#f5b51a" stroke-width="1.3" />
<polyline points="438.5,232.01 438.5,266.61" fill="none" stroke="#f5b51a" stroke-width="1.3" />
<polyline points="456.4,242.34 456.4,276.94" fill="none" stroke="#f5b51a" stroke-width="1.3" />
<polyline points="438.5,237.01 456.4,247.34" fill="none" stroke="#f5b51a" stroke-width="1.2" />
<path d="M396.6,243 L398.6,216.6 C399.4,211.6 404.6,208 412.6,205.6" fill="none" stroke="#d9d9d9" stroke-width="1.5"/>
<polygon points="489,297 518.5,285.5 519,290.5 494,303.5 489,301" fill="#5f6a6c" />
<polygon points="489,297 494,299.5 494,303.5 489,301" fill="#49524f" />
<path d="M466.8,286 L467,267 C467.2,262.5 469,260 472,258.2 L489.5,266.5 L488,296.5 Z" fill="#dadada"/>
<path d="M466.8,283 L488,293.6 L488,296.8 L466.8,286 Z" fill="#bdbdbd"/>
<path d="M467.6,263 C469,256.5 473,251.5 480.6,248.3 L497.5,244.6 L515,253 L502,257 L489.5,266.5 L472,258.2 Z" fill="#e4e4e4"/>
<path d="M467.6,263 C469,256.5 473,251.5 480.6,248.3 L483,249.4 C476,252.5 471.6,256.5 470,263.5 Z" fill="#c9c9c9"/>
<polyline points="474,254.6 490.5,263.9" fill="none" stroke="#b5b5b5" stroke-width="0.6" />
<polyline points="478.2,252.76 494.3,261.84" fill="none" stroke="#b5b5b5" stroke-width="0.6" />
<polyline points="482.4,250.92 498.1,259.78" fill="none" stroke="#b5b5b5" stroke-width="0.6" />
<polyline points="486.6,249.08 501.9,257.72" fill="none" stroke="#b5b5b5" stroke-width="0.6" />
<polyline points="490.8,247.24 505.7,255.66" fill="none" stroke="#b5b5b5" stroke-width="0.6" />
<polyline points="495,245.4 509.5,253.6" fill="none" stroke="#b5b5b5" stroke-width="0.6" />
<path d="M467.8,265 Q468,262.6 470,263.6 L484.6,271.4 Q486,272.3 485.8,274 L484.3,286.6 Q484,288.6 482.2,287.6 L468.6,280.4 Q467.6,279.8 467.6,278.6 Z" fill="#0e1218"/>
<path d="M469,265.6 L484.5,273.8 L483.2,285.6 L469,278 Z" fill="#26374a"/>
<path d="M475,268.8 L484.5,273.8 L483.2,285.6 L471.5,279.4 Z" fill="#31495f" opacity="0.7"/>
<path d="M489.5,266.5 C493,262.5 497,259 502,257 L515,253 C518.5,254.5 520,260 520.8,271.5 C521,278 519,283.5 517,285.5 L491.5,299.4 C488.6,299 487.6,296.5 487.8,292 Z" fill="#f5ae1a"/>
<path d="M489.5,266.5 C493,262.5 497,259 502,257 L503,258.5 C498,261 494.5,264 491.5,268 L489.6,293 C489.6,296.5 490.5,298.5 491.5,299.4 C488.6,299 487.6,296.5 487.8,292 Z" fill="#e2990f"/>
<polygon points="496.5,256.2 506.6,252.6 507.3,258.8 497,262.8" fill="#f0a514" />
<polygon points="496.5,256.2 500,253.4 509.6,250.2 506.6,252.6" fill="#fdc52f" />
<polygon points="503.2,256.4 505.6,255.5 505.9,258.6 503.5,259.6" fill="#2a2a2a" />
<path d="M492.6,272.5 C493.5,270 496,267.6 500.4,265.8 L500.4,286 L490.6,291.3 C489.8,291 489.6,290 489.8,288.5 Z" fill="#10191f"/>
<path d="M493.4,273.5 C494.4,271.2 496.5,269.3 499.5,268 L499.5,282 L491.2,286.5 Z" fill="#2b5163"/>
<path d="M495.5,271.6 L499.5,269.4 L499.5,282 L493,285.5 Z" fill="#5f8fa2" opacity="0.55"/>
<path d="M508.4,260.4 L514.6,258.4 C516.2,260 517,265 517.3,271 L508.4,279.4 Z" fill="#10191f"/>
<path d="M509.3,261.6 L514,260 C515.4,262 516,266 516.2,270.2 L509.3,276 Z" fill="#2b5163"/>
<path d="M511,261.4 L514,260.4 C515,262.5 515.6,266 515.8,269.5 L511,273.5 Z" fill="#6f9fb2" opacity="0.55"/>
<polygon points="501.4,264.6 507.4,262.4 507.6,287.6 501.6,290.8" fill="#f3aa16" />
<polyline points="501.4,264.6 501.6,290.8" fill="none" stroke="#b97a08" stroke-width="0.7" />
<polyline points="507.4,262.4 507.6,287.6" fill="none" stroke="#b97a08" stroke-width="0.7" />
<polygon points="502.3,266.3 506.5,264.8 506.6,279 502.4,281" fill="#1d3b49" />
<polygon points="503.4,266.8 506.5,265.6 506.6,277 503.5,278.6" fill="#4f7f92" />
<circle cx="493.7" cy="289" r="1.5" fill="#f2f2f2"/><circle cx="497" cy="289.6" r="1.1" fill="#d62a1f"/>
<circle cx="513.6" cy="278.2" r="1.5" fill="#f2f2f2"/><circle cx="510.8" cy="281.4" r="1.1" fill="#d62a1f"/>
<path d="M490.4,291.5 L500.4,286.2 L500.4,288.6 L490.8,293.8 Z" fill="#2a1d10"/>
<path d="M508.4,279.6 L517.2,271.4 L516.8,274.6 L508.4,282 Z" fill="#2a1d10"/>
<polygon points="277.2,188 279.4,190.4 279.4,262 277.2,262" fill="#a6a6a6" />
<path d="M307.40,168.50 Q308.20,162.80 312.30,162.20 Q316.30,161.80 317.80,165.60 L346.80,212.80 Q346.50,216.00 343.50,217.00 Q336.90,217.00 336.10,214.90 Z" fill="#c0cbd5"/>
<path d="M307.40,168.50 Q308.20,165.62 311.98,164.82 L340.81,215.18 L336.10,214.90 Z" fill="#8f9ba7"/>
<polyline points="311.98,164.82 340.81,215.18" fill="none" stroke="#6f7c88" stroke-width="0.7" />
<polyline points="307.4,168.5 336.1,214.9" fill="none" stroke="#4d5a66" stroke-width="0.9" />
<polyline points="317.8,165.6 346.8,212.8" fill="none" stroke="#e3e9ee" stroke-width="0.7" />
<polyline points="322.36,182.95 328.24,179.09" fill="none" stroke="#a9b5c0" stroke-width="0.5" />
<polyline points="332.16,200.07 338.1,195.14" fill="none" stroke="#a9b5c0" stroke-width="0.5" />
<polygon points="300.6,174.6 309.2,168.8 338,215 329.4,218.6" fill="#343434" />
<polygon points="300.86,175 309.46,169.22 310.51,170.9 301.91,176.6" fill="#6b6b6b" />
<polygon points="303.48,179 312.08,173.42 313.13,175.1 304.53,180.6" fill="#6b6b6b" />
<polygon points="306.1,183 314.7,177.62 315.75,179.3 307.15,184.6" fill="#6b6b6b" />
<polygon points="308.72,187 317.32,181.82 318.36,183.5 309.76,188.6" fill="#6b6b6b" />
<polygon points="311.33,191 319.93,186.02 320.98,187.7 312.38,192.6" fill="#6b6b6b" />
<polygon points="313.95,195 322.55,190.22 323.6,191.9 315,196.6" fill="#6b6b6b" />
<polygon points="316.57,199 325.17,194.42 326.22,196.1 317.62,200.6" fill="#6b6b6b" />
<polygon points="319.19,203 327.79,198.62 328.84,200.3 320.24,204.6" fill="#6b6b6b" />
<polygon points="321.81,207 330.41,202.82 331.45,204.5 322.85,208.6" fill="#6b6b6b" />
<polygon points="324.43,211 333.03,207.02 334.07,208.7 325.47,212.6" fill="#6b6b6b" />
<polygon points="327.04,215 335.64,211.22 336.69,212.9 328.09,216.6" fill="#6b6b6b" />
<polygon points="299.6,171.6 307.6,166.6 309.6,170.6 301,176.4" fill="#868686" />
<path d="M289.30,178.00 Q290.10,172.20 294.80,171.60 Q299.30,171.20 300.80,174.00 L329.60,218.20 Q329.30,219.00 325.50,220.00 Q318.10,220.00 317.30,217.40 Z" fill="#c0cbd5"/>
<path d="M289.30,178.00 Q290.10,174.64 294.36,173.84 L322.71,218.95 L317.30,217.40 Z" fill="#8f9ba7"/>
<polyline points="294.36,173.84 322.71,218.95" fill="none" stroke="#6f7c88" stroke-width="0.7" />
<polyline points="289.3,178 317.3,217.4" fill="none" stroke="#4d5a66" stroke-width="0.9" />
<polyline points="300.8,174 329.6,218.2" fill="none" stroke="#e3e9ee" stroke-width="0.7" />
<polyline points="304.57,190.08 311.17,186.41" fill="none" stroke="#a9b5c0" stroke-width="0.5" />
<polyline points="314.21,205.42 320.96,201.44" fill="none" stroke="#a9b5c0" stroke-width="0.5" />
<polygon points="286,182.6 291.8,178.6 319.6,218 309.6,215.6" fill="#343434" />
<polygon points="286.21,182.9 292.05,178.96 293.06,180.39 287.07,184.1" fill="#6b6b6b" />
<polygon points="288.36,185.9 294.58,182.54 295.59,183.97 289.22,187.1" fill="#6b6b6b" />
<polygon points="290.51,188.9 297.11,186.12 298.12,187.55 291.36,190.1" fill="#6b6b6b" />
<polygon points="292.65,191.9 299.63,189.7 300.65,191.14 293.51,193.1" fill="#6b6b6b" />
<polygon points="294.8,194.9 302.16,193.29 303.17,194.72 295.65,196.1" fill="#6b6b6b" />
<polygon points="296.94,197.9 304.69,196.87 305.7,198.3 297.8,199.1" fill="#6b6b6b" />
<polygon points="299.09,200.9 307.22,200.45 308.23,201.88 299.95,202.1" fill="#6b6b6b" />
<polygon points="301.23,203.9 309.74,204.03 310.75,205.46 302.09,205.1" fill="#6b6b6b" />
<polygon points="303.38,206.9 312.27,207.61 313.28,209.05 304.24,208.1" fill="#6b6b6b" />
<polygon points="305.52,209.9 314.8,211.19 315.81,212.63 306.38,211.1" fill="#6b6b6b" />
<polygon points="307.67,212.9 317.33,214.78 318.34,216.21 308.53,214.1" fill="#6b6b6b" />
<polygon points="284.4,180 289.6,176.6 291.4,180.4 286.4,184.4" fill="#868686" />
<path d="M273.6,185.6 Q275,181.4 280,180 Q284.4,180 285.8,182 L309.5,214.9 Q304,218.6 297.7,214.9 L277.4,194.4 Q274.6,190 273.6,185.6 Z" fill="#c0cbd5"/>
<path d="M273.6,185.6 Q275,182.6 278.8,182 L301.2,215.6 Q299.4,215.8 297.7,214.9 L277.4,194.4 Q274.6,190 273.6,185.6 Z" fill="#8f9ba7"/>
<polyline points="278.8,182 301.2,215.6" fill="none" stroke="#6f7c88" stroke-width="0.7" />
<polyline points="285.8,182 309.5,214.9" fill="none" stroke="#e3e9ee" stroke-width="0.7" />
<polyline points="277.2,189 281.6,186.2" fill="none" stroke="#a9b5c0" stroke-width="0.5" />
<line x1="298.6" y1="171.8" x2="298.6" y2="174.8" stroke="#c8d0d8" stroke-width="0.9"/>
<circle cx="298.60" cy="169.40" r="2.40" fill="#f6d586"/><circle cx="298.10" cy="168.80" r="1.20" fill="#fdebb8"/>
<line x1="314.5" y1="195.4" x2="314.5" y2="198.4" stroke="#c8d0d8" stroke-width="0.9"/>
<circle cx="314.50" cy="193.00" r="2.40" fill="#f6d586"/><circle cx="314.00" cy="192.40" r="1.20" fill="#fdebb8"/>
<line x1="328.6" y1="218.8" x2="328.6" y2="221.8" stroke="#c8d0d8" stroke-width="0.9"/>
<circle cx="328.60" cy="216.40" r="2.40" fill="#f6d586"/><circle cx="328.10" cy="215.80" r="1.20" fill="#fdebb8"/>
<path d="M304.6,202 L309,202 L309.6,215 L307.8,215 L307,208 L306.4,215 L304.8,215 Z" fill="#1c2e55"/>
<path d="M303.2,193.5 Q306.6,190.8 310.2,193.5 L310,203 L303.6,203 Z" fill="#2b8fd3"/>
<rect x="303.2" y="203" width="4" height="6.6" rx="0.8" fill="#e9852b"/>
<circle cx="306.7" cy="188.6" r="2.6" fill="#f0c09a"/><path d="M304,188.4 A2.7,2.9 0 0 1 309.4,188 L308,186.4 L305,186.6 Z" fill="#e09638"/><path d="M304,188.4 A2.7,2.7 0 0 1 309.4,188.4 L309.2,187 Q306.7,184 304.2,187 Z" fill="#e09638"/>
<path d="M310.2,194 L311.6,201.6 L310.4,202 Z" fill="#f0c09a"/>
<polygon points="556.6,368.9 566,363.8 575,369.6 567,375.6" fill="#6a6a6a" />
<polygon points="574.5,380.8 583,376 592,381 584.4,385.6" fill="#6a6a6a" />
<path d="M582.00,315.90 Q583.50,307.00 590.50,306.50 Q596.60,306.80 597.60,311.00 L566.40,361.20 Q565.40,365.50 561.00,365.80 Q556.90,364.30 556.60,360.30 Z" fill="#cad5de"/>
<path d="M582.00,315.90 Q583.20,311.45 589.18,310.45 L561.11,363.31 Q557.20,363.81 556.60,360.30 Z" fill="#a3b0bc"/>
<polyline points="589.18,310.45 561.11,363.31" fill="none" stroke="#73808c" stroke-width="0.7" />
<polyline points="597.6,311 566.4,361.2" fill="none" stroke="#4d5a66" stroke-width="0.9" />
<polyline points="573.62,330.55 579.91,326.69" fill="none" stroke="#8896a2" stroke-width="0.5" />
<polyline points="565.24,345.2 570.65,344.14" fill="none" stroke="#8896a2" stroke-width="0.5" />
<polygon points="591.6,320.8 602.6,317.2 577,364.8 566.2,361.1" fill="#343434" />
<polygon points="591.32,321.25 602.32,317.73 601.18,319.84 590.19,323.04" fill="#6b6b6b" />
<polygon points="588.5,325.73 599.47,323.02 598.33,325.13 587.37,327.52" fill="#6b6b6b" />
<polygon points="585.67,330.2 596.63,328.31 595.49,330.42 584.54,331.99" fill="#6b6b6b" />
<polygon points="582.85,334.68 593.78,333.6 592.64,335.71 581.72,336.47" fill="#6b6b6b" />
<polygon points="580.03,339.16 590.94,338.88 589.8,341 578.9,340.95" fill="#6b6b6b" />
<polygon points="577.21,343.64 588.09,344.17 586.96,346.29 576.08,345.43" fill="#6b6b6b" />
<polygon points="574.38,348.11 585.25,349.46 584.11,351.58 573.26,349.91" fill="#6b6b6b" />
<polygon points="571.56,352.59 582.4,354.75 581.27,356.87 570.43,354.38" fill="#6b6b6b" />
<polygon points="568.74,357.07 579.56,360.04 578.42,362.16 567.61,358.86" fill="#6b6b6b" />
<polygon points="598.6,311.4 605,314.8 603,318 591.4,321.4 594.5,315.4" fill="#454545" />
<polygon points="566,361.6 575.4,364.6 572.6,368.8 563.6,365.6" fill="#8a8f94" />
<path d="M602.40,318.00 Q603.90,315.30 608.40,314.80 Q613.60,315.10 614.60,319.20 L583.00,368.60 Q582.00,372.90 577.60,373.20 Q573.70,371.70 573.40,365.80 Z" fill="#cad5de"/>
<path d="M602.40,318.00 Q603.60,316.35 608.01,315.35 L577.82,369.69 Q574.00,370.19 573.40,365.80 Z" fill="#a3b0bc"/>
<polyline points="608.01,315.35 577.82,369.69" fill="none" stroke="#73808c" stroke-width="0.7" />
<polyline points="614.6,319.2 583,368.6" fill="none" stroke="#4d5a66" stroke-width="0.9" />
<polyline points="592.83,333.77 598.05,332.08" fill="none" stroke="#8896a2" stroke-width="0.5" />
<polyline points="583.26,349.55 588.08,350.01" fill="none" stroke="#8896a2" stroke-width="0.5" />
<polygon points="607.6,330.8 619.8,325 595,374 584,370.4" fill="#343434" />
<polygon points="607.34,331.24 619.52,325.54 618.42,327.72 606.29,333" fill="#6b6b6b" />
<polygon points="604.72,335.64 616.77,330.99 615.67,333.17 603.67,337.4" fill="#6b6b6b" />
<polygon points="602.09,340.04 614.01,336.43 612.91,338.61 601.04,341.8" fill="#6b6b6b" />
<polygon points="599.47,344.44 611.26,341.88 610.16,344.06 598.42,346.2" fill="#6b6b6b" />
<polygon points="596.85,348.84 608.5,347.32 607.4,349.5 595.8,350.6" fill="#6b6b6b" />
<polygon points="594.23,353.24 605.75,352.77 604.64,354.94 593.18,355" fill="#6b6b6b" />
<polygon points="591.6,357.64 602.99,358.21 601.89,360.39 590.56,359.4" fill="#6b6b6b" />
<polygon points="588.98,362.04 600.24,363.66 599.13,365.83 587.93,363.8" fill="#6b6b6b" />
<polygon points="586.36,366.44 597.48,369.1 596.38,371.28 585.31,368.2" fill="#6b6b6b" />
<polygon points="615.6,320 622,323.8 620,326 607.4,331.4 610.6,324.6" fill="#454545" />
<polygon points="584,371 593.4,373.8 590.4,378.4 581.4,375.2" fill="#8a8f94" />
<path d="M618.60,326.60 Q620.10,323.80 625.00,323.30 Q630.70,323.60 631.70,328.70 L601.20,379.50 Q600.20,383.40 595.40,383.70 Q591.70,382.20 591.40,376.50 Z" fill="#cad5de"/>
<path d="M618.60,326.60 Q619.80,325.37 624.63,324.37 L595.91,380.48 Q592.00,380.98 591.40,376.50 Z" fill="#a3b0bc"/>
<polyline points="624.63,324.37 595.91,380.48" fill="none" stroke="#73808c" stroke-width="0.7" />
<polyline points="631.7,328.7 601.2,379.5" fill="none" stroke="#4d5a66" stroke-width="0.9" />
<polyline points="609.62,343.07 615.15,341.68" fill="none" stroke="#8896a2" stroke-width="0.5" />
<polyline points="600.65,359.53 605.67,360.2" fill="none" stroke="#8896a2" stroke-width="0.5" />
<line x1="607.3" y1="314.1" x2="607.3" y2="317.1" stroke="#c8d0d8" stroke-width="0.9"/>
<circle cx="607.30" cy="311.60" r="2.50" fill="#f6d586"/><circle cx="606.80" cy="311.00" r="1.25" fill="#fdebb8"/>
<line x1="592.2" y1="337.5" x2="592.2" y2="340.5" stroke="#c8d0d8" stroke-width="0.9"/>
<circle cx="592.20" cy="335.00" r="2.50" fill="#f6d586"/><circle cx="591.70" cy="334.40" r="1.25" fill="#fdebb8"/>
<line x1="577.6" y1="361.1" x2="577.6" y2="364.1" stroke="#c8d0d8" stroke-width="0.9"/>
<circle cx="577.60" cy="358.60" r="2.50" fill="#f6d586"/><circle cx="577.10" cy="358.00" r="1.25" fill="#fdebb8"/>
<circle cx="559.6" cy="355.3" r="0.8" fill="#2fa84f"/><circle cx="593.6" cy="373.8" r="0.8" fill="#d6332a"/>
<polygon points="531.2,267.3 569.3,289.1 569.3,303.9 531.2,281.9" fill="#c6c6c6" />
<polygon points="532.6,269.9 568,290.3 568,301.6 532.6,281.2" fill="#37453f" />
<text transform="matrix(1,0.577,0,1,534.4,279.9)" font-size="8.6" class="b" fill="#f6f6f6" textLength="21.8" lengthAdjust="spacingAndGlyphs">STATION</text>
<polygon points="557.4,285.6 565.2,290.1 565.2,298.3 557.4,293.8" fill="#f0c22e" />
<text transform="matrix(1,0.577,0,1,558,293.6)" font-size="8.4" class="b" fill="#fff" textLength="6.6" lengthAdjust="spacingAndGlyphs">A1</text>
<polyline points="521.7,283.8 577.7,317.2" fill="none" stroke="#f8c81c" stroke-width="2" />
<circle cx="521.7" cy="283.8" r="0.9" fill="#fff4c8"/>
<circle cx="536.0" cy="292.4" r="0.9" fill="#fff4c8"/>
<circle cx="549.8" cy="300.6" r="0.9" fill="#fff4c8"/>
<circle cx="563.6" cy="308.8" r="0.9" fill="#fff4c8"/>
<circle cx="577.7" cy="317.2" r="0.9" fill="#fff4c8"/>
<rect x="548.8" y="303.3" width="2.2" height="4.2" rx="0.6" fill="#2f7fd6"/><rect x="549.4" y="304.4" width="1" height="1.6" fill="#dfefff"/>
<rect x="562.6" y="311.3" width="2.2" height="4.2" rx="0.6" fill="#d63a2f"/><rect x="563.2" y="312.4" width="1" height="1.6" fill="#ffe3df"/>
<polygon points="457,326 489.6,343.2 489.6,353.2 457,335.6" fill="#c6c6c6" />
<polygon points="489.6,343.2 514,331 514,340 489.6,353.2" fill="#b2b2b2" />
<polygon points="457,326 482,314 514,331 489.6,343.2" fill="#dedede" />
<polygon points="462.2,326 481.6,316.8 508.6,330.8 489.6,340.2" fill="#7b7b7b" />
<polygon points="481.6,316.8 508.6,330.8 508.6,333.8 489.6,336 483.6,322.8" fill="#9a9a9a" />
<polygon points="462.2,326 481.6,316.8 481.6,324.8 475,333" fill="#5f5f5f" />
<polygon points="469,327 476,323.6 478,324.8 471,328.4" fill="#8d8d8d" />
<polygon points="473,329.6 480,326.2 482,327.4 475,331" fill="#8d8d8d" />
<polygon points="477,332.2 484,328.8 486,330 479,333.6" fill="#8d8d8d" />
<polygon points="481,334.8 488,331.4 490,332.6 483,336.2" fill="#8d8d8d" />
<path d="M490.9,315 V322.6 Q491,325 493.5,325.6 L495.6,326.2 Q497.3,326.8 497.3,328.6 V337" fill="none" stroke="#f0b41c" stroke-width="1.3"/>
<path d="M505,306.5 V315 Q505,317.5 503,319.4 L501.2,321 Q500,322.2 500,324 V335.8" fill="none" stroke="#f0b41c" stroke-width="1.3"/>
<path d="M482.4,310.6 L494.6,304.6 Q496,304 496.1,305.4 L496.6,311.6 Q496.7,312.8 495.6,313.4 L483.4,319.4 Q481.9,320 481.8,318.6 L481.2,312.4 Q481.2,311.2 482.4,310.6 Z" fill="#f3f3f3" stroke="#9a9a9a" stroke-width="0.5"/>
<polygon points="487,311.2 494.4,307.6 494.8,311.4 487.4,315.2" fill="#5a5f63" />
<circle cx="484.2" cy="315.2" r="1.7" fill="#6aa72c"/><circle cx="484.2" cy="315.2" r="0.7" fill="#f3f3f3"/>
<path d="M499.6,300.6 L512.8,296.2 Q514.3,295.7 514.4,297.2 L514.9,302.6 Q515,303.9 513.8,304.4 L500.6,309.9 Q499.1,310.4 499,309 L498.5,302.4 Q498.5,301.1 499.6,300.6 Z" fill="#f3f3f3" stroke="#9a9a9a" stroke-width="0.5"/>
<polygon points="500.6,302.6 508,300 508.4,303.8 501,306.6" fill="#5a5f63" />
<circle cx="511.4" cy="299.7" r="1.7" fill="#6aa72c"/><circle cx="511.4" cy="299.7" r="0.7" fill="#f3f3f3"/>
<path d="M475.6,318 L481.8,318 L482,324 L480.8,332.2 L478.4,332 L479,324.6 L473.4,329.6 L471.8,328.2 Z" fill="#264f94"/>
<path d="M474.6,309.6 Q478.6,306.8 483,309.4 L482.4,319.2 L475,319 Z" fill="#e9b91f"/>
<path d="M474.4,310 L473.6,318.6 L475.4,318.8 Z" fill="#d6a416"/>
<circle cx="481" cy="305" r="2.6" fill="#eab98f"/><path d="M478.3,305 A2.7,2.8 0 0 1 483.6,304.2 L481.5,303.3 L479.5,305.4 Z" fill="#5a3516"/>
<ellipse cx="479.6" cy="332.6" rx="2" ry="0.8" fill="#eee"/>
<polygon points="368.6,252.4 372.6,250.2 390,260.2 386,262.6" fill="#27743a" />
<polygon points="368.6,252.4 386,262.6 386,264.6 368.6,254.4" fill="#164d20" />
<polyline points="370.6,252.6 388,262.6" fill="none" stroke="#164d20" stroke-width="0.5" />
<polyline points="370,253.6 370,258.6" fill="none" stroke="#2a2a2a" stroke-width="0.9" />
<polyline points="385,262.6 385,268" fill="none" stroke="#2a2a2a" stroke-width="0.9" />
<polygon points="372.6,264.6 376.6,262.4 384,266.8 380,269.2" fill="#27743a" />
<polygon points="372.6,264.6 380,269.2 380,270.8 372.6,266.2" fill="#164d20" />
<polyline points="379,270.4 379,276" fill="none" stroke="#2a2a2a" stroke-width="0.9" />
<ellipse cx="390.70" cy="285.10" rx="5.50" ry="1.7" fill="#bdbdbd"/><path d="M387.00,268.39 L393.60,268.39 L393.20,284.60 L390.60,284.60 L390.20,273.02 L389.60,285.00 L387.00,285.00 Z" fill="#4b4f54"/><ellipse cx="388.20" cy="285.10" rx="1.7" ry="0.9" fill="#161616"/><ellipse cx="392.20" cy="284.60" rx="1.7" ry="0.9" fill="#161616"/><path d="M385.20,258.85 Q390.20,255.85 395.20,258.85 L395.80,267.39 L393.80,267.39 L393.80,269.29 L386.60,269.29 L384.60,267.39 Z" fill="#93d2cf"/><circle cx="385.20" cy="268.09" r="1" fill="#e9b994"/><circle cx="395.20" cy="268.09" r="1" fill="#e9b994"/><circle cx="390.20" cy="254.22" r="2.92" fill="#e9b994"/><path d="M387.08,254.12 A3.12,3.32 0 0 1 393.32,254.12 L390.20,252.61 Z" fill="#3a2415"/>
<ellipse cx="643.6" cy="315.6" rx="5.4" ry="1.9" fill="#c6c6c6"/>
<path d="M639.6,299 L646.6,299 L647.4,306 L646.6,314.8 L644.2,314.8 L644,306.4 L642.6,300.6 L641.4,306 L640.2,312.6 L637.8,312.2 L638.8,305 Z" fill="#3a3e44"/>
<ellipse cx="639.2" cy="312.8" rx="1.9" ry="1" fill="#141414"/><ellipse cx="645.4" cy="315.2" rx="1.9" ry="1" fill="#141414"/>
<path d="M638.4,289.6 Q641,286.6 645.6,288 Q648,289 648.4,292 L648.8,300.4 L638.6,300.4 L637.6,294 Z" fill="#8fd0cd"/>
<path d="M645.8,289.4 Q648.6,290 648.8,293 L649.6,301 L647.6,301.2 L646.4,294 Z" fill="#7cc0bd"/>
<path d="M638.4,289.8 L636.6,287.6 L638.6,283.8 L640,284.8 L639.4,288 L641,289 Z" fill="#8fd0cd"/>
<circle cx="642" cy="284.6" r="2.9" fill="#e6b18a"/>
<path d="M639.2,284 Q639.4,280.8 642.6,281.2 Q645.4,281.6 645,284.8 L644.4,286.8 Q643,288.4 640.6,287.8 L639.6,286 L641,285.4 L641.2,283.8 Z" fill="#5a2f14"/>
<rect x="638.2" y="282.6" width="1.4" height="2.6" fill="#2a4f8c"/>
<path d="M645.6,301.4 L650.8,299.8 L652,307.6 L646.8,309.2 Z" fill="#262a2e"/>
<ellipse cx="499.6" cy="215.6" rx="4" ry="1.4" fill="#c4c4c4"/>
<path d="M497.2,206 L501.8,206 L501.4,214.6 L500,214.6 L499.6,209 L499,214.6 L497.6,214.6 Z" fill="#8a4a2a"/>
<path d="M495.6,194 Q499,191 502.6,194 L503.4,206.6 Q499.4,208.6 495.2,206.6 Z" fill="#76787b"/>
<circle cx="498.8" cy="189.4" r="2.5" fill="#c98a62"/>
<path d="M496.2,190.6 Q495.6,185.6 499,186.2 Q502,186.4 501.6,190 L501.8,195.6 L499.6,195.2 L500,189 L497.4,188.6 Z" fill="#17120f"/>
<ellipse cx="498.4" cy="215" rx="1.4" ry="0.7" fill="#222"/><ellipse cx="500.8" cy="215.4" rx="1.4" ry="0.7" fill="#222"/>
<defs><linearGradient id="gSign" x1="0" y1="0" x2="1" y2="0"><stop offset="0" stop-color="#86c440"/><stop offset="0.45" stop-color="#2f9e44"/><stop offset="1" stop-color="#0d7a3c"/></linearGradient><linearGradient id="gSw" x1="0" y1="0" x2="1" y2="1"><stop offset="0" stop-color="#2a3568"/><stop offset="1" stop-color="#1b244c"/></linearGradient></defs>
<polyline points="521.8,135 521.8,158.6 471.2,129.6 471.2,141" fill="none" stroke="#2b1b17" stroke-width="1.3" stroke-linejoin="miter"/>
<polyline points="526,137 526,173.6" fill="none" stroke="#2b1b17" stroke-width="1.3" />
<polyline points="531,139.6 531,161.6 569.2,183.6 569.2,199.6" fill="none" stroke="#2b1b17" stroke-width="1.3" stroke-linejoin="miter"/>
<polygon points="460.6,178.8 479.7,188.1 479.7,195.1 460.6,185.4" fill="#6b6b6b"/><polygon points="479.7,188.1 481.6,187.1 481.6,194.1 479.7,195.1" fill="#4e4e4e"/><polygon points="481.2,147.3 482.6,146.5 482.6,189.9 481.2,190.7" fill="#a9a9a9"/><polygon points="458.6,136.4 481.2,147.3 481.2,190.7 458.6,179.8" fill="#d6d6d6"/><polygon points="459.9,138.8 479.6,148.3 479.6,187.1 459.9,177.6" fill="url(#gSign)"/><g transform="matrix(1,0.4823,0,1,459.90,138.80)"><rect x="1" y="1.4" width="6.6" height="3" rx="1.5" fill="#2a6fc4"/><rect x="2" y="2.3" width="4.6" height="1.2" rx="0.6" fill="#d8ecff"/><rect x="1.4" y="6" width="6.6" height="2.1" fill="#f3fbea" opacity="0.95"/><rect x="1.4" y="9.2" width="9" height="2.1" fill="#f3fbea" opacity="0.95"/><rect x="1.4" y="12.4" width="7.6" height="2.1" fill="#f3fbea" opacity="0.9"/><rect x="1.4" y="15.6" width="5" height="1" fill="#f3fbea" opacity="0.6"/><g transform="translate(11.4,22.6) scale(1.25)"><path d="M-4.4,-5 L-1,-5.6 L0.4,-1 L-2.4,0.6 Z" fill="#2c2c2c"/><path d="M0.6,0.4 L3.6,-0.6 L4.6,4.4 L1.6,5.4 Z" fill="#2c2c2c"/><path d="M-4.6,-6 L-2.4,-6.6 L5,5 L2.8,6.2 Z" fill="#e0432b"/><path d="M4.2,-5.2 L2,-6.2 L-4.8,4.6 L-2.4,5.8 Z" fill="#2f8fd8"/><path d="M-5,-1.2 L-1.4,-0.4 L-2,2.2 L-5.4,1.2 Z" fill="#f08a24"/><path d="M1.4,-1.6 L5,-2.4 L5.2,0.4 L1.8,1 Z" fill="#555"/></g><rect x="1.6" y="31.6" width="2.4" height="3.6" fill="#f2fbef" opacity="0.9"/><rect x="5.6" y="33.2" width="3.6" height="1.2" fill="#f2fbef" opacity="0.9"/><rect x="11" y="32.6" width="4" height="1.3" fill="#f2fbef" opacity="0.9"/><rect x="15.6" y="30.8" width="1.6" height="4" fill="#f2fbef" opacity="0.9"/></g>
<polygon points="510.5,208.4 529.6,217.7 529.6,224.7 510.5,215.0" fill="#6b6b6b"/><polygon points="529.6,217.7 531.5,216.7 531.5,223.7 529.6,224.7" fill="#4e4e4e"/><polygon points="531.1,176.9 532.5,176.1 532.5,219.5 531.1,220.3" fill="#a9a9a9"/><polygon points="508.5,166.0 531.1,176.9 531.1,220.3 508.5,209.4" fill="#d6d6d6"/><polygon points="509.8,168.4 529.5,177.9 529.5,216.7 509.8,207.2" fill="url(#gSign)"/><g transform="matrix(1,0.4823,0,1,509.80,168.40)"><rect x="1" y="1.4" width="6.6" height="3" rx="1.5" fill="#2a6fc4"/><rect x="2" y="2.3" width="4.6" height="1.2" rx="0.6" fill="#d8ecff"/><rect x="1.4" y="6" width="6.6" height="2.1" fill="#f3fbea" opacity="0.95"/><rect x="1.4" y="9.2" width="9" height="2.1" fill="#f3fbea" opacity="0.95"/><rect x="1.4" y="12.4" width="7.6" height="2.1" fill="#f3fbea" opacity="0.9"/><rect x="1.4" y="15.6" width="5" height="1" fill="#f3fbea" opacity="0.6"/><g transform="translate(11.4,22.6) scale(1.25)"><path d="M-4.4,-5 L-1,-5.6 L0.4,-1 L-2.4,0.6 Z" fill="#2c2c2c"/><path d="M0.6,0.4 L3.6,-0.6 L4.6,4.4 L1.6,5.4 Z" fill="#2c2c2c"/><path d="M-4.6,-6 L-2.4,-6.6 L5,5 L2.8,6.2 Z" fill="#e0432b"/><path d="M4.2,-5.2 L2,-6.2 L-4.8,4.6 L-2.4,5.8 Z" fill="#2f8fd8"/><path d="M-5,-1.2 L-1.4,-0.4 L-2,2.2 L-5.4,1.2 Z" fill="#f08a24"/><path d="M1.4,-1.6 L5,-2.4 L5.2,0.4 L1.8,1 Z" fill="#555"/></g><rect x="1.6" y="31.6" width="2.4" height="3.6" fill="#f2fbef" opacity="0.9"/><rect x="5.6" y="33.2" width="3.6" height="1.2" fill="#f2fbef" opacity="0.9"/><rect x="11" y="32.6" width="4" height="1.3" fill="#f2fbef" opacity="0.9"/><rect x="15.6" y="30.8" width="1.6" height="4" fill="#f2fbef" opacity="0.9"/></g>
<polygon points="558.4,236.2 577.5,245.5 577.5,252.5 558.4,242.8" fill="#6b6b6b"/><polygon points="577.5,245.5 579.4,244.5 579.4,251.5 577.5,252.5" fill="#4e4e4e"/><polygon points="579.0,204.7 580.4,203.9 580.4,247.3 579.0,248.1" fill="#a9a9a9"/><polygon points="556.4,193.8 579.0,204.7 579.0,248.1 556.4,237.2" fill="#d6d6d6"/><polygon points="557.7,196.2 577.4,205.7 577.4,244.5 557.7,235.0" fill="url(#gSign)"/><g transform="matrix(1,0.4823,0,1,557.70,196.20)"><rect x="1" y="1.4" width="6.6" height="3" rx="1.5" fill="#2a6fc4"/><rect x="2" y="2.3" width="4.6" height="1.2" rx="0.6" fill="#d8ecff"/><rect x="1.4" y="6" width="6.6" height="2.1" fill="#f3fbea" opacity="0.95"/><rect x="1.4" y="9.2" width="9" height="2.1" fill="#f3fbea" opacity="0.95"/><rect x="1.4" y="12.4" width="7.6" height="2.1" fill="#f3fbea" opacity="0.9"/><rect x="1.4" y="15.6" width="5" height="1" fill="#f3fbea" opacity="0.6"/><g transform="translate(11.4,22.6) scale(1.25)"><path d="M-4.4,-5 L-1,-5.6 L0.4,-1 L-2.4,0.6 Z" fill="#2c2c2c"/><path d="M0.6,0.4 L3.6,-0.6 L4.6,4.4 L1.6,5.4 Z" fill="#2c2c2c"/><path d="M-4.6,-6 L-2.4,-6.6 L5,5 L2.8,6.2 Z" fill="#e0432b"/><path d="M4.2,-5.2 L2,-6.2 L-4.8,4.6 L-2.4,5.8 Z" fill="#2f8fd8"/><path d="M-5,-1.2 L-1.4,-0.4 L-2,2.2 L-5.4,1.2 Z" fill="#f08a24"/><path d="M1.4,-1.6 L5,-2.4 L5.2,0.4 L1.8,1 Z" fill="#555"/></g><rect x="1.6" y="31.6" width="2.4" height="3.6" fill="#f2fbef" opacity="0.9"/><rect x="5.6" y="33.2" width="3.6" height="1.2" fill="#f2fbef" opacity="0.9"/><rect x="11" y="32.6" width="4" height="1.3" fill="#f2fbef" opacity="0.9"/><rect x="15.6" y="30.8" width="1.6" height="4" fill="#f2fbef" opacity="0.9"/></g>
<polygon points="497,118.6 521,110 563.4,127.4 543.6,139.6" fill="url(#gSw)" />
<polygon points="497,118.6 543.6,139.6 543.6,146.6 497,125" fill="#1b244c" />
<polygon points="543.6,139.6 563.4,127.4 563.4,134 543.6,146.6" fill="#131936" />
<polyline points="497,118.6 543.6,139.6 563.4,127.4" fill="none" stroke="#3a4680" stroke-width="0.5" />
<polygon points="525,133.2 527.4,134.3 527.4,137.1 525,136" fill="#e8e8e8" />
<polygon points="525.5,134.2 526.9,134.8 526.9,136.3 525.5,135.7" fill="#222" />
<polygon points="528,134.55 530.4,135.65 530.4,138.45 528,137.35" fill="#e8e8e8" />
<polygon points="528.5,135.55 529.9,136.15 529.9,137.65 528.5,137.05" fill="#222" />
<polygon points="531,135.9 533.4,137 533.4,139.8 531,138.7" fill="#e8e8e8" />
<polygon points="531.5,136.9 532.9,137.5 532.9,139 531.5,138.4" fill="#222" />
<polygon points="534,137.25 536.4,138.35 536.4,141.15 534,140.05" fill="#e8e8e8" />
<polygon points="534.5,138.25 535.9,138.85 535.9,140.35 534.5,139.75" fill="#222" />
<polygon points="537,138.6 539.4,139.7 539.4,142.5 537,141.4" fill="#e8e8e8" />
<polygon points="537.5,139.6 538.9,140.2 538.9,141.7 537.5,141.1" fill="#222" />
<polygon points="540.2,140.2 542.4,141.2 542.4,144 540.2,143" fill="#e6d64a" />
<circle cx="522.6" cy="133.6" r="0.8" fill="#3f8fe0"/>
<text x="539" y="156" font-size="10" fill="#111" textLength="50.8" lengthAdjust="spacingAndGlyphs">PoE Switch</text>
<text x="585.4" y="227.4" font-size="10.3" fill="#111" textLength="67.6" lengthAdjust="spacingAndGlyphs">Digital Signage</text>
<defs><linearGradient id="gRt" x1="0" y1="0" x2="1" y2="0.3"><stop offset="0" stop-color="#2a3568"/><stop offset="1" stop-color="#1c2550"/></linearGradient></defs>
<path d="M57.45,157.40 L58.55,157.40 L59.25,189.60 L56.75,189.60 Z" fill="#3a3331"/>
<rect x="56.60" y="185" width="2.8" height="5" fill="#2a2422"/>
<path d="M63.65,160.00 L64.75,160.00 L65.45,189.60 L62.95,189.60 Z" fill="#3a3331"/>
<rect x="62.80" y="185" width="2.8" height="5" fill="#2a2422"/>
<path d="M69.85,160.00 L70.95,160.00 L71.65,189.60 L69.15,189.60 Z" fill="#3a3331"/>
<rect x="69.00" y="185" width="2.8" height="5" fill="#2a2422"/>
<path d="M81.45,160.00 L82.55,160.00 L83.25,189.60 L80.75,189.60 Z" fill="#3a3331"/>
<rect x="80.60" y="185" width="2.8" height="5" fill="#2a2422"/>
<path d="M87.65,160.00 L88.75,160.00 L89.45,189.60 L86.95,189.60 Z" fill="#3a3331"/>
<rect x="86.80" y="185" width="2.8" height="5" fill="#2a2422"/>
<path d="M94.45,157.40 L95.55,157.40 L96.25,189.60 L93.75,189.60 Z" fill="#3a3331"/>
<rect x="93.60" y="185" width="2.8" height="5" fill="#2a2422"/>
<polygon points="-2,200 24,188 98,189.6 86.4,206.2" fill="url(#gRt)" />
<polygon points="-2,200 86.4,206.2 86.4,214.2 -2,211.4" fill="#1d2752" />
<polygon points="86.4,206.2 98,189.6 98,199 86.4,214.2" fill="#131a3a" />
<polyline points="-2,200 86.4,206.2 98,189.6" fill="none" stroke="#3d4985" stroke-width="0.5" />
<rect x="47.2" y="207.2" width="0.9" height="4" fill="#3f8fe0"/>
<rect x="52.0" y="207.80" width="4.2" height="3.6" fill="#e9e9e9"/><rect x="52.8" y="208.80" width="2.6" height="2" fill="#1a1a1a"/>
<rect x="57.0" y="207.88" width="4.2" height="3.6" fill="#e9e9e9"/><rect x="57.8" y="208.88" width="2.6" height="2" fill="#1a1a1a"/>
<rect x="62.0" y="207.96" width="4.2" height="3.6" fill="#e9e9e9"/><rect x="62.8" y="208.96" width="2.6" height="2" fill="#1a1a1a"/>
<rect x="67.0" y="208.04" width="4.2" height="3.6" fill="#e9e9e9"/><rect x="67.8" y="209.04" width="2.6" height="2" fill="#1a1a1a"/>
<rect x="72.0" y="208.12" width="4.2" height="3.6" fill="#e9e9e9"/><rect x="72.8" y="209.12" width="2.6" height="2" fill="#1a1a1a"/>
<rect x="78" y="208.6" width="4" height="3.6" fill="#e8d84e"/><rect x="79" y="209.5" width="2" height="1.8" fill="#222"/>
<polygon points="97.61,148.90 98.39,148.85 99.18,148.82 99.98,148.84 100.79,148.91 101.60,149.04 102.40,149.22 103.19,149.48 103.96,149.79 104.70,150.18 105.41,150.62 106.08,151.13 106.70,151.70 107.27,152.32 107.78,152.99 108.22,153.70 108.61,154.44 108.92,155.21 109.18,156.00 109.36,156.80 109.49,157.61 109.56,158.42 109.58,159.22 109.55,160.01 109.50,160.79 106.30,160.84 106.18,160.28 106.00,159.74 105.78,159.22 105.53,158.72 105.25,158.25 104.95,157.79 104.64,157.36 104.32,156.95 103.99,156.56 103.65,156.18 103.30,155.81 102.95,155.45 102.59,155.10 102.22,154.75 101.84,154.41 101.45,154.08 101.04,153.76 100.61,153.45 100.15,153.15 99.68,152.87 99.18,152.62 98.66,152.40 98.12,152.22 97.56,152.10" fill="#1b86d6"/><polygon points="97.73,142.20 98.94,142.17 100.15,142.19 101.38,142.29 102.60,142.46 103.82,142.71 105.02,143.06 106.19,143.49 107.34,144.01 108.45,144.62 109.50,145.32 110.50,146.10 111.44,146.96 112.30,147.90 113.08,148.90 113.78,149.95 114.39,151.06 114.91,152.21 115.34,153.38 115.69,154.58 115.94,155.80 116.11,157.02 116.21,158.25 116.23,159.46 116.20,160.67 113.00,160.73 112.86,159.74 112.63,158.77 112.33,157.83 111.98,156.91 111.57,156.03 111.12,155.18 110.63,154.36 110.10,153.57 109.54,152.81 108.95,152.08 108.33,151.38 107.69,150.71 107.02,150.07 106.32,149.45 105.59,148.86 104.83,148.30 104.04,147.77 103.22,147.28 102.37,146.83 101.49,146.42 100.57,146.07 99.63,145.77 98.66,145.54 97.67,145.40" fill="#1b86d6"/><polygon points="97.85,135.40 99.49,135.39 101.14,135.47 102.79,135.64 104.44,135.91 106.07,136.30 107.67,136.80 109.25,137.41 110.77,138.14 112.25,138.99 113.66,139.94 114.99,141.00 116.24,142.16 117.40,143.41 118.46,144.74 119.41,146.15 120.26,147.63 120.99,149.15 121.60,150.73 122.10,152.33 122.49,153.96 122.76,155.61 122.93,157.26 123.01,158.91 123.00,160.55 119.80,160.61 119.63,159.18 119.36,157.78 118.99,156.41 118.53,155.07 117.99,153.78 117.38,152.52 116.71,151.30 115.97,150.13 115.18,149.01 114.33,147.93 113.44,146.89 112.50,145.90 111.51,144.96 110.47,144.07 109.39,143.22 108.27,142.43 107.10,141.69 105.88,141.02 104.62,140.41 103.33,139.87 101.99,139.41 100.62,139.04 99.22,138.77 97.79,138.60" fill="#1b86d6"/>
<polyline points="86.4,206.2 117.5,206.2 117.5,257" fill="none" stroke="#2b1b17" stroke-width="1.3" stroke-linejoin="miter"/>
<text x="0.8" y="230.8" class="b" font-size="11" fill="#111" textLength="76.4" lengthAdjust="spacingAndGlyphs">VR-300FW-NR</text>
<path d="M0.8,237.6 L7.7,241 L0.8,244.4 Z" fill="#c8161d"/>
<text x="10.6" y="244.3" font-size="10.4" fill="#111" textLength="98.4" lengthAdjust="spacingAndGlyphs">Video/Data Streaming</text>
<text x="101" y="361" font-size="10.2" fill="#111" textLength="65.6" lengthAdjust="spacingAndGlyphs">Control Center</text>
<defs><radialGradient id="gCCr" cx="0.47" cy="0.42" r="0.6" fx="0.4" fy="0.32"><stop offset="0" stop-color="#ffffff"/><stop offset="0.6" stop-color="#fafafa"/><stop offset="0.82" stop-color="#e6e6e6"/><stop offset="1" stop-color="#bcbcbc"/></radialGradient></defs>
<ellipse cx="136" cy="308.8" rx="70.5" ry="37.6" fill="url(#gCCr)"/>
<polygon points="137.2,214.4 195.2,247.29 195.2,290.89 137.2,258.4" fill="#3b4a52" />
<polygon points="195.2,247.29 196.6,246.6 196.6,290.2 195.2,290.89" fill="#27333a" />
<polygon points="138.6,216.79 148.7,222.52 148.7,229.92 138.6,224.19" fill="#2f8496" />
<polygon points="140.6,223.63 143.1,221.75 144.6,224.5 146.6,224.73 147.2,227.37" fill="#e4e6e4" opacity="0.55"/>
<polygon points="149.7,223.09 159.8,228.81 159.8,236.21 149.7,230.49" fill="#8f9392" />
<polygon points="151.7,229.92 154.2,228.04 155.7,230.79 157.7,231.02 158.3,233.66" fill="#e4e6e4" opacity="0.55"/>
<polygon points="160.8,229.38 170.9,235.11 170.9,242.51 160.8,236.78" fill="#a4a7a5" />
<polygon points="162.8,236.22 165.3,234.33 166.8,237.08 168.8,237.32 169.4,239.96" fill="#e4e6e4" opacity="0.55"/>
<polygon points="171.9,235.67 182,241.4 182,248.8 171.9,243.07" fill="#46545b" />
<polygon points="183,241.97 193.1,247.7 193.1,255.1 183,249.37" fill="#46545b" />
<polygon points="138.6,225.09 148.7,230.82 148.7,238.22 138.6,232.49" fill="#8f9392" />
<polygon points="140.6,231.93 143.1,230.05 144.6,232.8 146.6,233.03 147.2,235.67" fill="#e4e6e4" opacity="0.55"/>
<polygon points="149.7,231.39 159.8,237.11 159.8,244.51 149.7,238.79" fill="#a4a7a5" />
<polygon points="151.7,238.22 154.2,236.34 155.7,239.09 157.7,239.32 158.3,241.96" fill="#e4e6e4" opacity="0.55"/>
<polygon points="160.8,237.68 170.9,243.41 170.9,250.81 160.8,245.08" fill="#1f7a3c" />
<polygon points="162.8,244.52 165.3,242.63 166.8,245.38 168.8,245.62 169.4,248.26" fill="#e4e6e4" opacity="0.55"/>
<polygon points="171.9,243.97 182,249.7 182,257.1 171.9,251.37" fill="#a4a7a5" />
<polygon points="173.9,250.81 176.4,248.93 177.9,251.68 179.9,251.91 180.5,254.55" fill="#e4e6e4" opacity="0.55"/>
<polygon points="183,250.27 193.1,256 193.1,263.4 183,257.67" fill="#a4a7a5" />
<polygon points="185,257.1 187.5,255.22 189,257.97 191,258.2 191.6,260.84" fill="#e4e6e4" opacity="0.55"/>
<polygon points="138.6,233.39 148.7,239.12 148.7,246.52 138.6,240.79" fill="#8b8f3c" />
<polygon points="140.6,240.23 143.1,238.35 144.6,241.1 146.6,241.33 147.2,243.97" fill="#e4e6e4" opacity="0.55"/>
<polygon points="149.7,239.69 159.8,245.41 159.8,252.81 149.7,247.09" fill="#46545b" />
<polygon points="160.8,245.98 170.9,251.71 170.9,259.11 160.8,253.38" fill="#2a8e8a" />
<polygon points="162.8,252.82 165.3,250.93 166.8,253.68 168.8,253.92 169.4,256.56" fill="#e4e6e4" opacity="0.55"/>
<polygon points="171.9,252.27 182,258 182,265.4 171.9,259.67" fill="#a4a7a5" />
<polygon points="173.9,259.11 176.4,257.23 177.9,259.98 179.9,260.21 180.5,262.85" fill="#e4e6e4" opacity="0.55"/>
<polygon points="183,258.57 193.1,264.3 193.1,271.7 183,265.97" fill="#3f9fcb" />
<polygon points="185,265.4 187.5,263.52 189,266.27 191,266.5 191.6,269.14" fill="#e4e6e4" opacity="0.55"/>
<polygon points="138.6,241.69 148.7,247.42 148.7,254.82 138.6,249.09" fill="#a4a7a5" />
<polygon points="140.6,248.53 143.1,246.65 144.6,249.4 146.6,249.63 147.2,252.27" fill="#e4e6e4" opacity="0.55"/>
<polygon points="149.7,247.99 159.8,253.71 159.8,261.11 149.7,255.39" fill="#1f7a3c" />
<polygon points="151.7,254.82 154.2,252.94 155.7,255.69 157.7,255.92 158.3,258.56" fill="#e4e6e4" opacity="0.55"/>
<polygon points="160.8,254.28 170.9,260.01 170.9,267.41 160.8,261.68" fill="#3f9fcb" />
<polygon points="162.8,261.12 165.3,259.23 166.8,261.98 168.8,262.22 169.4,264.86" fill="#e4e6e4" opacity="0.55"/>
<polygon points="171.9,260.57 182,266.3 182,273.7 171.9,267.97" fill="#8b8f3c" />
<polygon points="173.9,267.41 176.4,265.53 177.9,268.28 179.9,268.51 180.5,271.15" fill="#e4e6e4" opacity="0.55"/>
<polygon points="183,266.87 193.1,272.6 193.1,280 183,274.27" fill="#a4a7a5" />
<polygon points="185,273.7 187.5,271.82 189,274.57 191,274.8 191.6,277.44" fill="#e4e6e4" opacity="0.55"/>
<polygon points="138.6,249.99 148.7,255.72 148.7,263.12 138.6,257.39" fill="#2a8e8a" />
<polygon points="140.6,256.83 143.1,254.95 144.6,257.7 146.6,257.93 147.2,260.57" fill="#e4e6e4" opacity="0.55"/>
<polygon points="149.7,256.29 159.8,262.01 159.8,269.41 149.7,263.69" fill="#46545b" />
<polygon points="160.8,262.58 170.9,268.31 170.9,275.71 160.8,269.98" fill="#a4a7a5" />
<polygon points="162.8,269.42 165.3,267.53 166.8,270.28 168.8,270.52 169.4,273.16" fill="#e4e6e4" opacity="0.55"/>
<polygon points="171.9,268.87 182,274.6 182,282 171.9,276.27" fill="#8f9392" />
<polygon points="173.9,275.71 176.4,273.83 177.9,276.58 179.9,276.81 180.5,279.45" fill="#e4e6e4" opacity="0.55"/>
<polygon points="183,275.17 193.1,280.9 193.1,288.3 183,282.57" fill="#a4a7a5" />
<polygon points="185,282 187.5,280.12 189,282.87 191,283.1 191.6,285.74" fill="#e4e6e4" opacity="0.55"/>
<polygon points="90.8,273.5 104.5,265 178.4,300.9 164.7,309.3" fill="#c9bea2" />
<polygon points="90.8,273.5 164.7,309.3 164.7,311 90.8,275.2" fill="#6d8797" />
<polygon points="164.7,309.3 178.4,300.9 178.4,302.6 164.7,311" fill="#4f6675" />
<rect x="162.8" y="310.4" width="1.8" height="15" fill="#c3c9cd"/>
<polygon points="158,325.4 167.6,321.6 168.4,322.6 158.8,326.6" fill="#b5bbc0" />
<rect x="97" y="278" width="1.6" height="8" fill="#b9bfc4"/>
<polygon points="112.1,269.2 115.4,271.3 115.4,273.9 112.1,271.8" fill="#2f3b43"/>
<ellipse cx="113.7" cy="273.3" rx="3.4" ry="1.5" fill="#55626b"/>
<polygon points="104.4,251.8 122.4,260.7 122.4,274.8 104.4,265.9" fill="#c5cdd2"/>
<polygon points="105.0,252.4 121.8,261.0 121.8,274.2 105.0,265.6" fill="#3a474f"/>
<polygon points="106.0,253.8 120.8,261.4 120.8,273.0 106.0,265.2" fill="#8f9896"/>
<polygon points="106.0,253.8 109.0,255.4 109.0,266.6 106.0,265.2" fill="#d9e2dc"/>
<polygon points="110.0,256.8 119.8,262.0 119.8,270.2 110.0,264.6" fill="#7fb98a"/>
<rect x="106.6" y="262.6" width="1.6" height="1.6" fill="#d63a2f"/>
<polygon points="132.3,280.8 135.6,282.9 135.6,285.5 132.3,283.4" fill="#2f3b43"/>
<ellipse cx="133.9" cy="284.9" rx="3.4" ry="1.5" fill="#55626b"/>
<polygon points="124.6,263.4 142.6,272.3 142.6,286.4 124.6,277.5" fill="#c5cdd2"/>
<polygon points="125.2,264.0 142.0,272.6 142.0,285.8 125.2,277.2" fill="#3a474f"/>
<polygon points="126.2,265.4 141.0,273.0 141.0,284.6 126.2,276.8" fill="#8f9896"/>
<polygon points="127.2,267.0 133.3,270.1 133.3,278.3 127.2,275.2" fill="#b4bab7"/>
<polygon points="134.4,270.7 140.0,273.6 140.0,282.8 134.4,278.9" fill="#a9afac"/>
<polygon points="154.9,292.4 158.2,294.5 158.2,297.1 154.9,295.0" fill="#2f3b43"/>
<ellipse cx="156.5" cy="296.5" rx="3.4" ry="1.5" fill="#55626b"/>
<polygon points="147.2,275.0 165.2,283.9 165.2,298.0 147.2,289.1" fill="#c5cdd2"/>
<polygon points="147.8,275.6 164.6,284.2 164.6,297.4 147.8,288.8" fill="#3a474f"/>
<polygon points="148.8,277.0 163.6,284.6 163.6,296.2 148.8,288.4" fill="#8f9896"/>
<polygon points="149.8,278.6 155.9,281.7 155.9,289.9 149.8,286.8" fill="#b4bab7"/>
<polygon points="157.0,282.3 162.6,285.2 162.6,294.4 157.0,290.5" fill="#a9afac"/>
<polygon points="98.2,274.6 101.6,272.6 110.6,277 107.2,279.2" fill="#343e46" />
<polygon points="120.6,285.6 124,283.6 133,288 129.6,290.2" fill="#343e46" />
<polygon points="143.6,297 147,295 156,299.4 152.6,301.6" fill="#343e46" />
<g transform="translate(80.3,272.4)">
<path d="M11.6,21 V27.4" stroke="#858c93" stroke-width="1.9"/>
<path d="M11.6,27.2 L2.6,25.2 M11.6,27.2 L7.4,32 M11.6,27.2 L19,30.6 M11.6,27.2 L21.6,25 M11.6,27.2 L14,22.8" stroke="#a0a7ad" stroke-width="2" stroke-linecap="round" fill="none"/>
<circle cx="11.6" cy="27.2" r="1.5" fill="#8a9197"/>
<path d="M9,15 L19.4,11.6 Q22.4,12 21.8,15 L13.4,21.6 Q9.6,22 9,15 Z" fill="#1d2630"/>
<path d="M10,15.4 L19.4,12.4 Q21,12.6 20.8,14 L12.6,19.4 Z" fill="#2b3744"/>
<path d="M0.4,2.4 Q1.2,-0.8 5,-0.7 Q8.8,-0.4 9.8,3 L13.6,17 Q14.4,21 11.2,22 Q7.8,22.8 6.2,20 L0.6,6.4 Q-0.2,4.2 0.4,2.4 Z" fill="#2e3a48"/>
<path d="M0.4,2.4 Q1.2,-0.8 5,-0.7 Q6.4,-0.6 7.6,0.2 Q4.4,0.4 3.4,2.6 Q2.6,4.4 3.4,6.6 L8.4,20.4 Q8.6,21.6 9.4,22.2 Q7.2,22 6.2,20 L0.6,6.4 Q-0.2,4.2 0.4,2.4 Z" fill="#48576a"/>
</g>
<g transform="translate(114.0,274.6)">
<path d="M3.4,19.4 L10.8,17.6 Q13.2,18 13,20.6 L12.6,32.6 L9.4,33.4 L9.2,24.4 L4.6,25.4 Z" fill="#15171a"/>
<ellipse cx="12" cy="33.8" rx="3" ry="1.3" fill="#0d0d0d"/>
<path d="M-6.6,7.4 Q-3,3.4 2.6,4.6 Q6,5.8 6.8,9.4 L8,20.6 Q2,24 -4.4,21.6 Z" fill="#ece8d8"/>
<path d="M-6.6,7.4 Q-5,5.6 -3,4.9 L0.5,21.8 Q-2.4,22.4 -4.4,21.6 Z" fill="#d4cfbb"/>
<path d="M3.6,7.6 Q6.4,7 7.4,9.6 L9,13.6 L18,15.4 L17.6,17.4 L7,16.6 Q5.6,16.4 5,15 Z" fill="#f3efe0"/>
<ellipse cx="18.6" cy="16.4" rx="1.5" ry="1" fill="#e9b994"/>
<circle cx="5.6" cy="14.2" r="1.6" fill="#f2b91e"/>
<path d="M-3.4,5.2 L-0.4,4.4 L0.4,6 L-2.8,6.8 Z" fill="#20242a"/>
<circle cx="0" cy="0" r="3.9" fill="#e9b994"/>
<path d="M-4,0.6 Q-4.6,-4.6 0.4,-4.3 Q4.4,-3.6 4,0 Q2,-2 -0.6,-1.6 L-1.4,2.6 Q-3.4,2.6 -4,0.6 Z" fill="#c77a2e"/>
</g>
<g transform="translate(101.6,285.4)">
<path d="M11.6,21 V27.4" stroke="#858c93" stroke-width="1.9"/>
<path d="M11.6,27.2 L2.6,25.2 M11.6,27.2 L7.4,32 M11.6,27.2 L19,30.6 M11.6,27.2 L21.6,25 M11.6,27.2 L14,22.8" stroke="#a0a7ad" stroke-width="2" stroke-linecap="round" fill="none"/>
<circle cx="11.6" cy="27.2" r="1.5" fill="#8a9197"/>
<path d="M9,15 L19.4,11.6 Q22.4,12 21.8,15 L13.4,21.6 Q9.6,22 9,15 Z" fill="#1d2630"/>
<path d="M10,15.4 L19.4,12.4 Q21,12.6 20.8,14 L12.6,19.4 Z" fill="#2b3744"/>
<path d="M0.4,2.4 Q1.2,-0.8 5,-0.7 Q8.8,-0.4 9.8,3 L13.6,17 Q14.4,21 11.2,22 Q7.8,22.8 6.2,20 L0.6,6.4 Q-0.2,4.2 0.4,2.4 Z" fill="#2e3a48"/>
<path d="M0.4,2.4 Q1.2,-0.8 5,-0.7 Q6.4,-0.6 7.6,0.2 Q4.4,0.4 3.4,2.6 Q2.6,4.4 3.4,6.6 L8.4,20.4 Q8.6,21.6 9.4,22.2 Q7.2,22 6.2,20 L0.6,6.4 Q-0.2,4.2 0.4,2.4 Z" fill="#48576a"/>
</g>
<g transform="translate(137.2,287.4)">
<path d="M3.4,19.4 L10.8,17.6 Q13.2,18 13,20.6 L12.6,32.6 L9.4,33.4 L9.2,24.4 L4.6,25.4 Z" fill="#15171a"/>
<ellipse cx="12" cy="33.8" rx="3" ry="1.3" fill="#0d0d0d"/>
<path d="M-6.6,7.4 Q-3,3.4 2.6,4.6 Q6,5.8 6.8,9.4 L8,20.6 Q2,24 -4.4,21.6 Z" fill="#ece8d8"/>
<path d="M-6.6,7.4 Q-5,5.6 -3,4.9 L0.5,21.8 Q-2.4,22.4 -4.4,21.6 Z" fill="#d4cfbb"/>
<path d="M3.6,7.6 Q6.4,7 7.4,9.6 L9,13.6 L18,15.4 L17.6,17.4 L7,16.6 Q5.6,16.4 5,15 Z" fill="#f3efe0"/>
<ellipse cx="18.6" cy="16.4" rx="1.5" ry="1" fill="#e9b994"/>
<circle cx="5.6" cy="14.2" r="1.6" fill="#f2b91e"/>
<path d="M-3.4,5.2 L-0.4,4.4 L0.4,6 L-2.8,6.8 Z" fill="#20242a"/>
<circle cx="0" cy="0" r="3.9" fill="#e9b994"/>
<path d="M-4,0.6 Q-4.6,-4.6 0.4,-4.3 Q4.4,-3.6 4,0 Q2,-2 -0.6,-1.6 L-1.4,2.6 Q-3.4,2.6 -4,0.6 Z" fill="#5a3418"/>
</g>
<g transform="translate(124.8,299.0)">
<path d="M11.6,21 V27.4" stroke="#858c93" stroke-width="1.9"/>
<path d="M11.6,27.2 L2.6,25.2 M11.6,27.2 L7.4,32 M11.6,27.2 L19,30.6 M11.6,27.2 L21.6,25 M11.6,27.2 L14,22.8" stroke="#a0a7ad" stroke-width="2" stroke-linecap="round" fill="none"/>
<circle cx="11.6" cy="27.2" r="1.5" fill="#8a9197"/>
<path d="M9,15 L19.4,11.6 Q22.4,12 21.8,15 L13.4,21.6 Q9.6,22 9,15 Z" fill="#1d2630"/>
<path d="M10,15.4 L19.4,12.4 Q21,12.6 20.8,14 L12.6,19.4 Z" fill="#2b3744"/>
<path d="M0.4,2.4 Q1.2,-0.8 5,-0.7 Q8.8,-0.4 9.8,3 L13.6,17 Q14.4,21 11.2,22 Q7.8,22.8 6.2,20 L0.6,6.4 Q-0.2,4.2 0.4,2.4 Z" fill="#2e3a48"/>
<path d="M0.4,2.4 Q1.2,-0.8 5,-0.7 Q6.4,-0.6 7.6,0.2 Q4.4,0.4 3.4,2.6 Q2.6,4.4 3.4,6.6 L8.4,20.4 Q8.6,21.6 9.4,22.2 Q7.2,22 6.2,20 L0.6,6.4 Q-0.2,4.2 0.4,2.4 Z" fill="#48576a"/>
</g>
<polygon points="370.2,212.6 370.2,262 369.81,260.48 367.97,256.66 365.91,252.95 363.63,249.38 361.15,245.94 358.47,242.66 355.59,239.54 352.54,236.6 349.32,233.84 345.94,231.28 342.42,228.93 338.76,226.78 334.98,224.86 331.1,223.16 327.12,221.7" fill="#3a9be0" opacity="0.42"/>
<circle cx="304.4" cy="289.6" r="71.6" fill="#fff" stroke="#2990d2" stroke-width="2.4"/>
<text x="265" y="344.7" class="b" font-size="11" fill="#111" textLength="79.4" lengthAdjust="spacingAndGlyphs">ICG-2210W-NR</text>
<g clip-path="url(#cCircle)">
<path d="M272.2,318.0 C284.2,309.0 300.0,307.0 310,306.0" fill="none" stroke="#2a2422" stroke-width="1.1"/>
<path d="M284.5,323.0 C296.5,314.0 300.0,312.5 310,311.5" fill="none" stroke="#2a2422" stroke-width="1.1"/>
<path d="M293.9,310.6 C305.9,301.6 300.0,304.5 310,303.5" fill="none" stroke="#2a2422" stroke-width="1.1"/>
<path d="M303.7,323.0 C315.7,314.0 300.0,316.6 310,315.6" fill="none" stroke="#2a2422" stroke-width="1.1"/>
<path d="M336,305.5 C344,305.3 354,306.1 365,307.9 C369,308.5 368.6,312.1 364,311.7 C355,310.9 346,309.9 337,309.1" fill="none" stroke="#2a2422" stroke-width="1.05"/>
<path d="M336,309.9 C344,309.7 354,310.5 365,311.8 C369,312.4 368.6,315.9 364,315.5 C355,314.9 346,314.0 337,313.3" fill="none" stroke="#2a2422" stroke-width="1.05"/>
<path d="M336,314.5 C344,314.3 354,315.1 365,315.9 C369,316.5 368.6,319.9 364,319.5 C355,319.1 346,318.3 337,317.7" fill="none" stroke="#2a2422" stroke-width="1.05"/>
<path d="M336,319.0 C344,318.8 354,319.6 365,319.9 C369,320.5 368.6,323.8 364,323.4 C355,323.2 346,322.5 337,322.0" fill="none" stroke="#2a2422" stroke-width="1.05"/>
<rect x="267.10" y="225.0" width="0.8" height="30.0" fill="#6a6664"/>
<rect x="266.85" y="253.0" width="1.3" height="65.0" fill="#4a4644"/>
<rect x="279.60" y="228.0" width="0.8" height="30.0" fill="#6a6664"/>
<rect x="279.35" y="256.0" width="1.3" height="67.0" fill="#4a4644"/>
<rect x="289.10" y="221.0" width="0.8" height="30.0" fill="#6a6664"/>
<rect x="288.85" y="249.0" width="1.3" height="61.6" fill="#4a4644"/>
<rect x="299.60" y="228.0" width="0.8" height="30.0" fill="#6a6664"/>
<rect x="299.35" y="256.0" width="1.3" height="67.0" fill="#4a4644"/>
<rect x="266.10" y="280.5" width="2.8" height="10.0" rx="0.6" fill="#2a2422"/>
<rect x="278.60" y="285.0" width="2.8" height="10.0" rx="0.6" fill="#2a2422"/>
<rect x="288.10" y="275.0" width="2.8" height="9.0" rx="0.6" fill="#2a2422"/>
<rect x="298.60" y="285.0" width="2.8" height="9.0" rx="0.6" fill="#2a2422"/>
<path d="M283.3,313.0 C283.3,310.0 286.5,309.6 287.5,307.4 C288.1,305.8 288.6,304.4 288.9,302.9 L290.9,302.9 C291.2,304.4 291.7,305.8 292.3,307.4 C293.3,309.6 296.5,310.0 296.5,313.0 C296.5,316.2 283.3,316.2 283.3,313.0 Z" fill="#2a2422"/>
<path d="M284.5,311.8 Q286.9,309.8 288.3,307.4" fill="none" stroke="#6a6462" stroke-width="0.7" opacity="0.8"/>
<path d="M261.6,320.4 C261.6,317.4 264.8,317.0 265.8,314.8 C266.4,313.2 266.9,311.8 267.2,310.3 L269.2,310.3 C269.5,311.8 270.0,313.2 270.6,314.8 C271.6,317.0 274.8,317.4 274.8,320.4 C274.8,323.6 261.6,323.6 261.6,320.4 Z" fill="#2a2422"/>
<path d="M262.8,319.2 Q265.2,317.2 266.6,314.8" fill="none" stroke="#6a6462" stroke-width="0.7" opacity="0.8"/>
<path d="M273.9,325.4 C273.9,322.4 277.1,322.0 278.1,319.8 C278.7,318.2 279.2,316.8 279.5,315.3 L281.5,315.3 C281.8,316.8 282.3,318.2 282.9,319.8 C283.9,322.0 287.1,322.4 287.1,325.4 C287.1,328.6 273.9,328.6 273.9,325.4 Z" fill="#2a2422"/>
<path d="M275.1,324.2 Q277.5,322.2 278.9,319.8" fill="none" stroke="#6a6462" stroke-width="0.7" opacity="0.8"/>
<path d="M293.1,325.4 C293.1,322.4 296.3,322.0 297.3,319.8 C297.9,318.2 298.4,316.8 298.7,315.3 L300.7,315.3 C301.0,316.8 301.5,318.2 302.1,319.8 C303.1,322.0 306.3,322.4 306.3,325.4 C306.3,328.6 293.1,328.6 293.1,325.4 Z" fill="#2a2422"/>
<path d="M294.3,324.2 Q296.7,322.2 298.1,319.8" fill="none" stroke="#6a6462" stroke-width="0.7" opacity="0.8"/>
<polygon points="309.3,292.3 313.4,291 335.8,294.3 332.3,295.8" fill="#4a4341" />
<polygon points="309.3,292.3 332.3,295.8 332.3,327.8 309.3,324.4" fill="#2f2927" />
<polygon points="332.3,295.8 335.8,294.3 336.8,324.6 332.3,327.8" fill="#1d1917" />
<polygon points="311.7,299.6 319.6,300.7 319.6,303.4 311.7,302.3" fill="#3a6fc0" />
<polygon points="312.8,300.6 318.6,301.4 318.6,302.4 312.8,301.6" fill="#a9c6ea" />
<rect x="333" y="304.2" width="3.8" height="2.6" rx="0.6" fill="#d9b24a"/><rect x="334" y="304.2" width="1.2" height="2.6" fill="#f3dc8a"/>
<rect x="333" y="308.6" width="3.8" height="2.6" rx="0.6" fill="#d9b24a"/><rect x="334" y="308.6" width="1.2" height="2.6" fill="#f3dc8a"/>
<rect x="333" y="313.2" width="3.8" height="2.6" rx="0.6" fill="#d9b24a"/><rect x="334" y="313.2" width="1.2" height="2.6" fill="#f3dc8a"/>
<rect x="333" y="317.7" width="3.8" height="2.6" rx="0.6" fill="#d9b24a"/><rect x="334" y="317.7" width="1.2" height="2.6" fill="#f3dc8a"/>
<path d="M335.8,296 L343,298 L347.8,302.4 L341,304.2 L335.8,300 Z" fill="#2a2422"/>
<path d="M340.6,302.4 L347.8,302.6 L354.4,242 Q353,240 351.4,241.6 Z" fill="#2a2422"/>
<path d="M345.4,302.4 L347.8,302.6 L354.4,242 L353.4,241.2 Z" fill="#4a4442"/>
<polygon points="338.31,269.19 337.75,268.76 337.20,268.32 336.67,267.83 336.16,267.30 335.70,266.73 335.27,266.12 334.90,265.46 334.58,264.78 334.33,264.06 334.15,263.32 334.04,262.56 334.00,261.80 334.04,261.04 334.15,260.28 334.33,259.54 334.58,258.82 334.90,258.14 335.27,257.48 335.70,256.87 336.16,256.30 336.67,255.77 337.20,255.28 337.75,254.84 338.31,254.41 340.36,256.61 340.08,257.02 339.86,257.45 339.69,257.90 339.54,258.36 339.44,258.81 339.35,259.26 339.30,259.70 339.25,260.13 339.23,260.56 339.21,260.98 339.20,261.39 339.20,261.80 339.20,262.21 339.21,262.62 339.23,263.04 339.25,263.47 339.30,263.90 339.35,264.34 339.44,264.79 339.54,265.24 339.69,265.70 339.86,266.15 340.08,266.58 340.36,266.99" fill="#1b80d2"/><polygon points="333.67,274.16 332.79,273.41 331.93,272.61 331.12,271.75 330.36,270.84 329.66,269.86 329.04,268.83 328.49,267.74 328.04,266.61 327.67,265.45 327.41,264.25 327.25,263.03 327.20,261.80 327.25,260.57 327.41,259.35 327.67,258.15 328.04,256.99 328.49,255.86 329.04,254.77 329.66,253.74 330.36,252.76 331.12,251.85 331.93,250.99 332.79,250.19 333.67,249.44 335.72,251.63 335.12,252.37 334.59,253.16 334.13,253.98 333.74,254.82 333.40,255.68 333.12,256.55 332.89,257.42 332.71,258.30 332.57,259.17 332.48,260.05 332.42,260.92 332.40,261.80 332.42,262.68 332.48,263.55 332.57,264.43 332.71,265.30 332.89,266.18 333.12,267.05 333.40,267.92 333.74,268.78 334.13,269.62 334.59,270.44 335.12,271.23 335.72,271.97" fill="#1b80d2"/><polygon points="328.90,279.28 327.67,278.19 326.50,277.03 325.40,275.79 324.38,274.48 323.45,273.08 322.62,271.62 321.90,270.09 321.30,268.50 320.82,266.87 320.48,265.20 320.27,263.51 320.20,261.80 320.27,260.09 320.48,258.40 320.82,256.73 321.30,255.10 321.90,253.51 322.62,251.98 323.45,250.52 324.38,249.12 325.40,247.81 326.50,246.57 327.67,245.41 328.90,244.32 330.95,246.51 330.01,247.59 329.16,248.74 328.42,249.94 327.76,251.18 327.19,252.46 326.70,253.76 326.29,255.07 325.97,256.41 325.72,257.75 325.54,259.10 325.43,260.45 325.40,261.80 325.43,263.15 325.54,264.50 325.72,265.85 325.97,267.19 326.29,268.53 326.70,269.84 327.19,271.14 327.76,272.42 328.42,273.66 329.16,274.86 330.01,276.01 330.95,277.09" fill="#1b80d2"/>
</g>
</svg>
</body></html>
